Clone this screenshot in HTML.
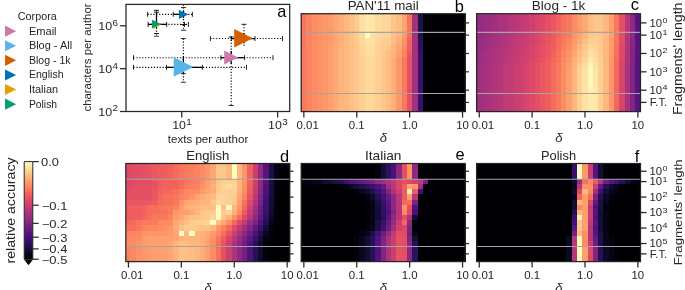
<!DOCTYPE html>
<html><head><meta charset="utf-8"><title>figure</title>
<style>html,body{margin:0;padding:0;background:#fff}svg{display:block;will-change:transform}text{font-family:"Liberation Sans",sans-serif}</style></head>
<body>
<svg width="685" height="290" viewBox="0 0 685 290" font-family="'Liberation Sans', sans-serif" fill="#262626">
<rect width="685" height="290" fill="#fff"/>
<text x="17.8" y="20.4" font-size="10.2" textLength="39" lengthAdjust="spacingAndGlyphs">Corpora</text>
<path d="M5.05 25.60L16.15 31.15L5.05 36.70Z" fill="#CC79A7"/>
<text x="28.9" y="34.55" font-size="10.0" textLength="27.7" lengthAdjust="spacingAndGlyphs">Email</text>
<path d="M5.05 40.20L16.15 45.75L5.05 51.30Z" fill="#56B4E9"/>
<text x="28.9" y="49.15" font-size="10.0" textLength="43.2" lengthAdjust="spacingAndGlyphs">Blog - All</text>
<path d="M5.05 54.80L16.15 60.35L5.05 65.90Z" fill="#D55E00"/>
<text x="28.9" y="63.75" font-size="10.0" textLength="41.7" lengthAdjust="spacingAndGlyphs">Blog - 1k</text>
<path d="M5.05 69.40L16.15 74.95L5.05 80.50Z" fill="#0072B2"/>
<text x="28.9" y="78.35" font-size="10.0" textLength="34.7" lengthAdjust="spacingAndGlyphs">English</text>
<path d="M5.05 84.00L16.15 89.55L5.05 95.10Z" fill="#E69F00"/>
<text x="28.9" y="92.95" font-size="10.0" textLength="29.2" lengthAdjust="spacingAndGlyphs">Italian</text>
<path d="M5.05 98.60L16.15 104.15L5.05 109.70Z" fill="#009E73"/>
<text x="28.9" y="107.55" font-size="10.0" textLength="28.2" lengthAdjust="spacingAndGlyphs">Polish</text>
<clipPath id="ca"><rect x="126.0" y="4.4" width="163.7" height="107.1"/></clipPath>
<g clip-path="url(#ca)">
<line x1="133.5" y1="57.7" x2="273" y2="57.7" stroke="#000" stroke-width="1.15" stroke-dasharray="1.15 1.75"/>
<line x1="220.9" y1="57.7" x2="244.6" y2="57.7" stroke="#000" stroke-width="1.25"/>
<line x1="133.5" y1="55.2" x2="133.5" y2="60.2" stroke="#000" stroke-width="0.85"/>
<line x1="273" y1="55.2" x2="273" y2="60.2" stroke="#000" stroke-width="0.85"/>
<line x1="220.9" y1="55.2" x2="220.9" y2="60.2" stroke="#000" stroke-width="0.85"/>
<line x1="244.6" y1="55.2" x2="244.6" y2="60.2" stroke="#000" stroke-width="0.85"/>
<line x1="231.2" y1="37" x2="231.2" y2="105.5" stroke="#000" stroke-width="1.15" stroke-dasharray="1.15 1.75"/>
<line x1="231.2" y1="51" x2="231.2" y2="64" stroke="#000" stroke-width="1.25"/>
<line x1="228.7" y1="37" x2="233.7" y2="37" stroke="#000" stroke-width="0.85"/>
<line x1="228.7" y1="105.5" x2="233.7" y2="105.5" stroke="#000" stroke-width="0.85"/>
<line x1="133.5" y1="67.3" x2="246.5" y2="67.3" stroke="#000" stroke-width="1.15" stroke-dasharray="1.15 1.75"/>
<line x1="166.5" y1="67.3" x2="202.4" y2="67.3" stroke="#000" stroke-width="1.25"/>
<line x1="133.5" y1="64.8" x2="133.5" y2="69.8" stroke="#000" stroke-width="0.85"/>
<line x1="246.5" y1="64.8" x2="246.5" y2="69.8" stroke="#000" stroke-width="0.85"/>
<line x1="166.5" y1="64.8" x2="166.5" y2="69.8" stroke="#000" stroke-width="0.85"/>
<line x1="202.4" y1="64.8" x2="202.4" y2="69.8" stroke="#000" stroke-width="0.85"/>
<line x1="183.4" y1="38.6" x2="183.4" y2="82.2" stroke="#000" stroke-width="1.15" stroke-dasharray="1.15 1.75"/>
<line x1="183.4" y1="56.4" x2="183.4" y2="73.6" stroke="#000" stroke-width="1.25"/>
<line x1="180.9" y1="38.6" x2="185.9" y2="38.6" stroke="#000" stroke-width="0.85"/>
<line x1="180.9" y1="82.2" x2="185.9" y2="82.2" stroke="#000" stroke-width="0.85"/>
<line x1="180.9" y1="73.6" x2="185.9" y2="73.6" stroke="#000" stroke-width="0.85"/>
<line x1="210.4" y1="38.5" x2="282.5" y2="38.5" stroke="#000" stroke-width="1.15" stroke-dasharray="1.15 1.75"/>
<line x1="231.3" y1="38.5" x2="255" y2="38.5" stroke="#000" stroke-width="1.25"/>
<line x1="210.4" y1="36.0" x2="210.4" y2="41.0" stroke="#000" stroke-width="0.85"/>
<line x1="282.5" y1="36.0" x2="282.5" y2="41.0" stroke="#000" stroke-width="0.85"/>
<line x1="231.3" y1="36.0" x2="231.3" y2="41.0" stroke="#000" stroke-width="0.85"/>
<line x1="255" y1="36.0" x2="255" y2="41.0" stroke="#000" stroke-width="0.85"/>
<line x1="244" y1="24.3" x2="244" y2="47" stroke="#000" stroke-width="1.15" stroke-dasharray="1.15 1.75"/>
<line x1="244" y1="33" x2="244" y2="43.3" stroke="#000" stroke-width="1.25"/>
<line x1="241.5" y1="24.3" x2="246.5" y2="24.3" stroke="#000" stroke-width="0.85"/>
<line x1="147.6" y1="14.3" x2="192.4" y2="14.3" stroke="#000" stroke-width="1.15" stroke-dasharray="1.15 1.75"/>
<line x1="173.2" y1="14.3" x2="187" y2="14.3" stroke="#000" stroke-width="1.25"/>
<line x1="147.6" y1="11.8" x2="147.6" y2="16.8" stroke="#000" stroke-width="0.85"/>
<line x1="192.4" y1="11.8" x2="192.4" y2="16.8" stroke="#000" stroke-width="0.85"/>
<line x1="173.2" y1="11.8" x2="173.2" y2="16.8" stroke="#000" stroke-width="0.85"/>
<line x1="183.5" y1="4.5" x2="183.5" y2="30.2" stroke="#000" stroke-width="1.15" stroke-dasharray="1.15 1.75"/>
<line x1="183.5" y1="11" x2="183.5" y2="18" stroke="#000" stroke-width="1.25"/>
<line x1="181.0" y1="7.6" x2="186.0" y2="7.6" stroke="#000" stroke-width="0.85"/>
<line x1="181.0" y1="24.6" x2="186.0" y2="24.6" stroke="#000" stroke-width="0.85"/>
<line x1="181.0" y1="30.2" x2="186.0" y2="30.2" stroke="#000" stroke-width="0.85"/>
<line x1="148.1" y1="24.4" x2="188.4" y2="24.4" stroke="#000" stroke-width="1.15" stroke-dasharray="1.15 1.75"/>
<line x1="148.1" y1="24.4" x2="166.7" y2="24.4" stroke="#000" stroke-width="1.25"/>
<line x1="148.1" y1="21.9" x2="148.1" y2="26.9" stroke="#000" stroke-width="0.85"/>
<line x1="166.7" y1="21.9" x2="166.7" y2="26.9" stroke="#000" stroke-width="0.85"/>
<line x1="184.5" y1="21.9" x2="184.5" y2="26.9" stroke="#000" stroke-width="0.85"/>
<line x1="188.4" y1="21.9" x2="188.4" y2="26.9" stroke="#000" stroke-width="0.85"/>
<line x1="156.5" y1="10.3" x2="156.5" y2="36.2" stroke="#000" stroke-width="1.15" stroke-dasharray="1.15 1.75"/>
<line x1="156.5" y1="12.2" x2="156.5" y2="28.4" stroke="#000" stroke-width="1.25"/>
<line x1="154.0" y1="10.3" x2="159.0" y2="10.3" stroke="#000" stroke-width="0.85"/>
<line x1="154.0" y1="12.2" x2="159.0" y2="12.2" stroke="#000" stroke-width="0.85"/>
<line x1="154.0" y1="33.5" x2="159.0" y2="33.5" stroke="#000" stroke-width="0.85"/>
<line x1="154.0" y1="36.2" x2="159.0" y2="36.2" stroke="#000" stroke-width="0.85"/>
<path d="M224.20 50.60L238.20 57.60L224.20 64.60Z" fill="#CC79A7"/>
<path d="M173.70 57.20L193.30 67.00L173.70 76.80Z" fill="#56B4E9"/>
<path d="M234.20 29.00L252.80 38.30L234.20 47.60Z" fill="#D55E00"/>
<path d="M178.85 9.75L188.15 14.40L178.85 19.05Z" fill="#0072B2"/>
<path d="M152.65 20.45L161.15 24.70L152.65 28.95Z" fill="#E69F00"/>
<path d="M152.05 19.75L160.55 24.00L152.05 28.25Z" fill="#009E73"/>
</g>
<rect x="126.0" y="4.4" width="163.70" height="107.10" fill="none" stroke="#262626" stroke-width="1.25"/>
<line x1="120.0" y1="111.50" x2="126.0" y2="111.50" stroke="#262626" stroke-width="1.25"/>
<text x="98.31" y="115.6" font-size="11.77" textLength="13.86" lengthAdjust="spacingAndGlyphs">10</text>
<text x="112.5" y="111.36" font-size="8.58" textLength="5.5" lengthAdjust="spacingAndGlyphs">2</text>
<line x1="120.0" y1="68.66" x2="126.0" y2="68.66" stroke="#262626" stroke-width="1.25"/>
<text x="98.31" y="72.76" font-size="11.77" textLength="13.86" lengthAdjust="spacingAndGlyphs">10</text>
<text x="112.5" y="68.53" font-size="8.58" textLength="5.5" lengthAdjust="spacingAndGlyphs">4</text>
<line x1="120.0" y1="25.82" x2="126.0" y2="25.82" stroke="#262626" stroke-width="1.25"/>
<text x="98.31" y="29.92" font-size="11.77" textLength="13.86" lengthAdjust="spacingAndGlyphs">10</text>
<text x="112.5" y="25.69" font-size="8.58" textLength="5.5" lengthAdjust="spacingAndGlyphs">6</text>
<line x1="181.75" y1="111.5" x2="181.75" y2="117.5" stroke="#262626" stroke-width="1.25"/>
<text x="172.15" y="128.8" font-size="11.77" textLength="13.86" lengthAdjust="spacingAndGlyphs">10</text>
<text x="186.34" y="124.57" font-size="8.58" textLength="5.5" lengthAdjust="spacingAndGlyphs">1</text>
<line x1="277.65" y1="111.5" x2="277.65" y2="117.5" stroke="#262626" stroke-width="1.25"/>
<text x="268.05" y="128.8" font-size="11.77" textLength="13.86" lengthAdjust="spacingAndGlyphs">10</text>
<text x="282.24" y="124.57" font-size="8.58" textLength="5.5" lengthAdjust="spacingAndGlyphs">3</text>
<text x="208" y="142.6" font-size="10.2" text-anchor="middle" textLength="80.5" lengthAdjust="spacingAndGlyphs">texts per author</text>
<text x="91.3" y="57.5" font-size="10.2" text-anchor="middle" textLength="108" lengthAdjust="spacingAndGlyphs" transform="rotate(-90 91.3 57.5)">characters per author</text>
<text x="286.3" y="16.6" font-size="16.4" text-anchor="end" fill="#000">a</text>
<g shape-rendering="crispEdges">
<rect x="301.20" y="13.70" width="5.79" height="18.86" fill="#f8745c"/>
<rect x="306.49" y="13.70" width="5.79" height="18.86" fill="#fb835f"/>
<rect x="311.78" y="13.70" width="5.79" height="18.86" fill="#fc8c63"/>
<rect x="317.07" y="13.70" width="5.79" height="18.86" fill="#fd9266"/>
<rect x="322.36" y="13.70" width="5.79" height="18.86" fill="#fd9668"/>
<rect x="327.65" y="13.70" width="5.79" height="18.86" fill="#fd9b6b"/>
<rect x="332.94" y="13.70" width="5.79" height="18.86" fill="#fea571"/>
<rect x="338.23" y="13.70" width="5.79" height="18.86" fill="#feae77"/>
<rect x="343.52" y="13.70" width="5.79" height="18.86" fill="#feb77e"/>
<rect x="348.81" y="13.70" width="5.79" height="18.86" fill="#fec185"/>
<rect x="354.10" y="13.70" width="5.79" height="18.86" fill="#feca8d"/>
<rect x="359.39" y="13.70" width="5.79" height="18.86" fill="#fddea0"/>
<rect x="364.68" y="13.70" width="11.08" height="18.86" fill="#fde7a9"/>
<rect x="375.26" y="13.70" width="5.79" height="18.86" fill="#fddea0"/>
<rect x="380.55" y="13.70" width="11.08" height="18.86" fill="#fed89a"/>
<rect x="391.14" y="13.70" width="5.79" height="18.86" fill="#fec68a"/>
<rect x="396.43" y="13.70" width="5.79" height="18.86" fill="#febd82"/>
<rect x="401.72" y="13.70" width="5.79" height="18.86" fill="#fea571"/>
<rect x="407.01" y="13.70" width="5.79" height="18.86" fill="#f8745c"/>
<rect x="412.30" y="13.70" width="5.79" height="18.86" fill="#a1307e"/>
<rect x="417.59" y="13.70" width="5.79" height="18.86" fill="#1e1149"/>
<rect x="422.88" y="13.70" width="42.82" height="18.86" fill="#000004"/>
<rect x="301.20" y="32.06" width="5.79" height="6.62" fill="#f8745c"/>
<rect x="306.49" y="32.06" width="5.79" height="6.62" fill="#fb835f"/>
<rect x="311.78" y="32.06" width="5.79" height="6.62" fill="#fc8c63"/>
<rect x="317.07" y="32.06" width="5.79" height="6.62" fill="#fd9266"/>
<rect x="322.36" y="32.06" width="5.79" height="6.62" fill="#fd9668"/>
<rect x="327.65" y="32.06" width="5.79" height="6.62" fill="#fd9b6b"/>
<rect x="332.94" y="32.06" width="5.79" height="6.62" fill="#fea571"/>
<rect x="338.23" y="32.06" width="5.79" height="6.62" fill="#feae77"/>
<rect x="343.52" y="32.06" width="5.79" height="6.62" fill="#feb77e"/>
<rect x="348.81" y="32.06" width="5.79" height="6.62" fill="#fec185"/>
<rect x="354.10" y="32.06" width="5.79" height="6.62" fill="#feca8d"/>
<rect x="359.39" y="32.06" width="5.79" height="6.62" fill="#fed89a"/>
<rect x="364.68" y="32.06" width="5.79" height="6.62" fill="#fcfdbf"/>
<rect x="369.97" y="32.06" width="5.79" height="6.62" fill="#fde2a3"/>
<rect x="375.26" y="32.06" width="5.79" height="6.62" fill="#fed89a"/>
<rect x="380.55" y="32.06" width="11.08" height="6.62" fill="#fed395"/>
<rect x="391.14" y="32.06" width="5.79" height="6.62" fill="#fec185"/>
<rect x="396.43" y="32.06" width="5.79" height="6.62" fill="#feb47b"/>
<rect x="401.72" y="32.06" width="5.79" height="6.62" fill="#fd9b6b"/>
<rect x="407.01" y="32.06" width="5.79" height="6.62" fill="#f56b5c"/>
<rect x="412.30" y="32.06" width="5.79" height="6.62" fill="#a1307e"/>
<rect x="417.59" y="32.06" width="5.79" height="6.62" fill="#21114e"/>
<rect x="422.88" y="32.06" width="42.82" height="6.62" fill="#000004"/>
<rect x="301.20" y="38.17" width="5.79" height="6.62" fill="#f8745c"/>
<rect x="306.49" y="38.17" width="5.79" height="6.62" fill="#fb835f"/>
<rect x="311.78" y="38.17" width="5.79" height="6.62" fill="#fc8c63"/>
<rect x="317.07" y="38.17" width="5.79" height="6.62" fill="#fd9266"/>
<rect x="322.36" y="38.17" width="5.79" height="6.62" fill="#fd9668"/>
<rect x="327.65" y="38.17" width="5.79" height="6.62" fill="#fd9b6b"/>
<rect x="332.94" y="38.17" width="5.79" height="6.62" fill="#fea571"/>
<rect x="338.23" y="38.17" width="5.79" height="6.62" fill="#feae77"/>
<rect x="343.52" y="38.17" width="5.79" height="6.62" fill="#feb77e"/>
<rect x="348.81" y="38.17" width="5.79" height="6.62" fill="#fec185"/>
<rect x="354.10" y="38.17" width="5.79" height="6.62" fill="#feca8d"/>
<rect x="359.39" y="38.17" width="5.79" height="6.62" fill="#fed89a"/>
<rect x="364.68" y="38.17" width="11.08" height="6.62" fill="#fde2a3"/>
<rect x="375.26" y="38.17" width="5.79" height="6.62" fill="#fed89a"/>
<rect x="380.55" y="38.17" width="11.08" height="6.62" fill="#fecf92"/>
<rect x="391.14" y="38.17" width="5.79" height="6.62" fill="#febd82"/>
<rect x="396.43" y="38.17" width="5.79" height="6.62" fill="#feae77"/>
<rect x="401.72" y="38.17" width="5.79" height="6.62" fill="#fd9266"/>
<rect x="407.01" y="38.17" width="5.79" height="6.62" fill="#f2625d"/>
<rect x="412.30" y="38.17" width="5.79" height="6.62" fill="#a1307e"/>
<rect x="417.59" y="38.17" width="5.79" height="6.62" fill="#29115a"/>
<rect x="422.88" y="38.17" width="42.82" height="6.62" fill="#000004"/>
<rect x="301.20" y="44.29" width="5.79" height="6.62" fill="#f9795d"/>
<rect x="306.49" y="44.29" width="5.79" height="6.62" fill="#fb835f"/>
<rect x="311.78" y="44.29" width="5.79" height="6.62" fill="#fc8c63"/>
<rect x="317.07" y="44.29" width="5.79" height="6.62" fill="#fd9266"/>
<rect x="322.36" y="44.29" width="5.79" height="6.62" fill="#fd9668"/>
<rect x="327.65" y="44.29" width="5.79" height="6.62" fill="#fe9f6d"/>
<rect x="332.94" y="44.29" width="5.79" height="6.62" fill="#fea973"/>
<rect x="338.23" y="44.29" width="5.79" height="6.62" fill="#feb47b"/>
<rect x="343.52" y="44.29" width="5.79" height="6.62" fill="#feb77e"/>
<rect x="348.81" y="44.29" width="5.79" height="6.62" fill="#fec185"/>
<rect x="354.10" y="44.29" width="5.79" height="6.62" fill="#fec68a"/>
<rect x="359.39" y="44.29" width="5.79" height="6.62" fill="#fed395"/>
<rect x="364.68" y="44.29" width="11.08" height="6.62" fill="#fddea0"/>
<rect x="375.26" y="44.29" width="5.79" height="6.62" fill="#fed395"/>
<rect x="380.55" y="44.29" width="5.79" height="6.62" fill="#fecf92"/>
<rect x="385.85" y="44.29" width="5.79" height="6.62" fill="#fec68a"/>
<rect x="391.14" y="44.29" width="5.79" height="6.62" fill="#feb77e"/>
<rect x="396.43" y="44.29" width="5.79" height="6.62" fill="#fea571"/>
<rect x="401.72" y="44.29" width="5.79" height="6.62" fill="#fc8c63"/>
<rect x="407.01" y="44.29" width="5.79" height="6.62" fill="#ef5d5e"/>
<rect x="412.30" y="44.29" width="5.79" height="6.62" fill="#a1307e"/>
<rect x="417.59" y="44.29" width="5.79" height="6.62" fill="#2d1161"/>
<rect x="422.88" y="44.29" width="42.82" height="6.62" fill="#000004"/>
<rect x="301.20" y="50.41" width="5.79" height="6.62" fill="#f9795d"/>
<rect x="306.49" y="50.41" width="5.79" height="6.62" fill="#fb835f"/>
<rect x="311.78" y="50.41" width="5.79" height="6.62" fill="#fc8c63"/>
<rect x="317.07" y="50.41" width="5.79" height="6.62" fill="#fd9266"/>
<rect x="322.36" y="50.41" width="5.79" height="6.62" fill="#fd9668"/>
<rect x="327.65" y="50.41" width="5.79" height="6.62" fill="#fe9f6d"/>
<rect x="332.94" y="50.41" width="5.79" height="6.62" fill="#fea973"/>
<rect x="338.23" y="50.41" width="5.79" height="6.62" fill="#feb47b"/>
<rect x="343.52" y="50.41" width="5.79" height="6.62" fill="#feb77e"/>
<rect x="348.81" y="50.41" width="5.79" height="6.62" fill="#fec185"/>
<rect x="354.10" y="50.41" width="5.79" height="6.62" fill="#fec68a"/>
<rect x="359.39" y="50.41" width="5.79" height="6.62" fill="#fed395"/>
<rect x="364.68" y="50.41" width="11.08" height="6.62" fill="#fddea0"/>
<rect x="375.26" y="50.41" width="5.79" height="6.62" fill="#fed395"/>
<rect x="380.55" y="50.41" width="5.79" height="6.62" fill="#feca8d"/>
<rect x="385.85" y="50.41" width="5.79" height="6.62" fill="#fec185"/>
<rect x="391.14" y="50.41" width="5.79" height="6.62" fill="#feb47b"/>
<rect x="396.43" y="50.41" width="5.79" height="6.62" fill="#fe9f6d"/>
<rect x="401.72" y="50.41" width="5.79" height="6.62" fill="#fb835f"/>
<rect x="407.01" y="50.41" width="5.79" height="6.62" fill="#ea5661"/>
<rect x="412.30" y="50.41" width="5.79" height="6.62" fill="#a1307e"/>
<rect x="417.59" y="50.41" width="5.79" height="6.62" fill="#36106b"/>
<rect x="422.88" y="50.41" width="42.82" height="6.62" fill="#000004"/>
<rect x="301.20" y="56.53" width="5.79" height="6.62" fill="#f9795d"/>
<rect x="306.49" y="56.53" width="5.79" height="6.62" fill="#fb835f"/>
<rect x="311.78" y="56.53" width="5.79" height="6.62" fill="#fc8c63"/>
<rect x="317.07" y="56.53" width="5.79" height="6.62" fill="#fd9266"/>
<rect x="322.36" y="56.53" width="5.79" height="6.62" fill="#fd9668"/>
<rect x="327.65" y="56.53" width="5.79" height="6.62" fill="#fe9f6d"/>
<rect x="332.94" y="56.53" width="5.79" height="6.62" fill="#fea973"/>
<rect x="338.23" y="56.53" width="5.79" height="6.62" fill="#feb47b"/>
<rect x="343.52" y="56.53" width="5.79" height="6.62" fill="#feb77e"/>
<rect x="348.81" y="56.53" width="5.79" height="6.62" fill="#fec185"/>
<rect x="354.10" y="56.53" width="5.79" height="6.62" fill="#fec68a"/>
<rect x="359.39" y="56.53" width="5.79" height="6.62" fill="#fecf92"/>
<rect x="364.68" y="56.53" width="11.08" height="6.62" fill="#fed89a"/>
<rect x="375.26" y="56.53" width="5.79" height="6.62" fill="#fecf92"/>
<rect x="380.55" y="56.53" width="5.79" height="6.62" fill="#fec68a"/>
<rect x="385.85" y="56.53" width="5.79" height="6.62" fill="#febd82"/>
<rect x="391.14" y="56.53" width="5.79" height="6.62" fill="#feae77"/>
<rect x="396.43" y="56.53" width="5.79" height="6.62" fill="#fd9668"/>
<rect x="401.72" y="56.53" width="5.79" height="6.62" fill="#f9795d"/>
<rect x="407.01" y="56.53" width="5.79" height="6.62" fill="#e44f64"/>
<rect x="412.30" y="56.53" width="5.79" height="6.62" fill="#a1307e"/>
<rect x="417.59" y="56.53" width="5.79" height="6.62" fill="#3b0f70"/>
<rect x="422.88" y="56.53" width="42.82" height="6.62" fill="#000004"/>
<rect x="301.20" y="62.65" width="5.79" height="6.62" fill="#f9795d"/>
<rect x="306.49" y="62.65" width="5.79" height="6.62" fill="#fb835f"/>
<rect x="311.78" y="62.65" width="5.79" height="6.62" fill="#fc8c63"/>
<rect x="317.07" y="62.65" width="5.79" height="6.62" fill="#fd9266"/>
<rect x="322.36" y="62.65" width="5.79" height="6.62" fill="#fd9668"/>
<rect x="327.65" y="62.65" width="5.79" height="6.62" fill="#fe9f6d"/>
<rect x="332.94" y="62.65" width="5.79" height="6.62" fill="#fea973"/>
<rect x="338.23" y="62.65" width="5.79" height="6.62" fill="#feb47b"/>
<rect x="343.52" y="62.65" width="5.79" height="6.62" fill="#feb77e"/>
<rect x="348.81" y="62.65" width="5.79" height="6.62" fill="#fec185"/>
<rect x="354.10" y="62.65" width="5.79" height="6.62" fill="#fec68a"/>
<rect x="359.39" y="62.65" width="5.79" height="6.62" fill="#fecf92"/>
<rect x="364.68" y="62.65" width="11.08" height="6.62" fill="#fed89a"/>
<rect x="375.26" y="62.65" width="5.79" height="6.62" fill="#fecf92"/>
<rect x="380.55" y="62.65" width="5.79" height="6.62" fill="#fec68a"/>
<rect x="385.85" y="62.65" width="5.79" height="6.62" fill="#febd82"/>
<rect x="391.14" y="62.65" width="5.79" height="6.62" fill="#feae77"/>
<rect x="396.43" y="62.65" width="5.79" height="6.62" fill="#fd9668"/>
<rect x="401.72" y="62.65" width="5.79" height="6.62" fill="#f9795d"/>
<rect x="407.01" y="62.65" width="5.79" height="6.62" fill="#e44f64"/>
<rect x="412.30" y="62.65" width="5.79" height="6.62" fill="#a1307e"/>
<rect x="417.59" y="62.65" width="5.79" height="6.62" fill="#3b0f70"/>
<rect x="422.88" y="62.65" width="42.82" height="6.62" fill="#000004"/>
<rect x="301.20" y="68.77" width="5.79" height="6.62" fill="#f9795d"/>
<rect x="306.49" y="68.77" width="5.79" height="6.62" fill="#fb835f"/>
<rect x="311.78" y="68.77" width="5.79" height="6.62" fill="#fc8c63"/>
<rect x="317.07" y="68.77" width="5.79" height="6.62" fill="#fd9266"/>
<rect x="322.36" y="68.77" width="5.79" height="6.62" fill="#fd9668"/>
<rect x="327.65" y="68.77" width="5.79" height="6.62" fill="#fe9f6d"/>
<rect x="332.94" y="68.77" width="5.79" height="6.62" fill="#fea973"/>
<rect x="338.23" y="68.77" width="5.79" height="6.62" fill="#feb47b"/>
<rect x="343.52" y="68.77" width="5.79" height="6.62" fill="#feb77e"/>
<rect x="348.81" y="68.77" width="5.79" height="6.62" fill="#fec185"/>
<rect x="354.10" y="68.77" width="5.79" height="6.62" fill="#fec68a"/>
<rect x="359.39" y="68.77" width="5.79" height="6.62" fill="#fecf92"/>
<rect x="364.68" y="68.77" width="11.08" height="6.62" fill="#fed89a"/>
<rect x="375.26" y="68.77" width="5.79" height="6.62" fill="#fecf92"/>
<rect x="380.55" y="68.77" width="5.79" height="6.62" fill="#fec68a"/>
<rect x="385.85" y="68.77" width="5.79" height="6.62" fill="#febd82"/>
<rect x="391.14" y="68.77" width="5.79" height="6.62" fill="#feae77"/>
<rect x="396.43" y="68.77" width="5.79" height="6.62" fill="#fd9668"/>
<rect x="401.72" y="68.77" width="5.79" height="6.62" fill="#f9795d"/>
<rect x="407.01" y="68.77" width="5.79" height="6.62" fill="#e44f64"/>
<rect x="412.30" y="68.77" width="5.79" height="6.62" fill="#a1307e"/>
<rect x="417.59" y="68.77" width="5.79" height="6.62" fill="#3b0f70"/>
<rect x="422.88" y="68.77" width="42.82" height="6.62" fill="#000004"/>
<rect x="301.20" y="74.89" width="5.79" height="6.62" fill="#f9795d"/>
<rect x="306.49" y="74.89" width="5.79" height="6.62" fill="#fb835f"/>
<rect x="311.78" y="74.89" width="5.79" height="6.62" fill="#fc8c63"/>
<rect x="317.07" y="74.89" width="5.79" height="6.62" fill="#fd9266"/>
<rect x="322.36" y="74.89" width="5.79" height="6.62" fill="#fd9668"/>
<rect x="327.65" y="74.89" width="5.79" height="6.62" fill="#fe9f6d"/>
<rect x="332.94" y="74.89" width="5.79" height="6.62" fill="#fea973"/>
<rect x="338.23" y="74.89" width="5.79" height="6.62" fill="#feb47b"/>
<rect x="343.52" y="74.89" width="5.79" height="6.62" fill="#feb77e"/>
<rect x="348.81" y="74.89" width="5.79" height="6.62" fill="#fec185"/>
<rect x="354.10" y="74.89" width="5.79" height="6.62" fill="#fec68a"/>
<rect x="359.39" y="74.89" width="5.79" height="6.62" fill="#fecf92"/>
<rect x="364.68" y="74.89" width="11.08" height="6.62" fill="#fed89a"/>
<rect x="375.26" y="74.89" width="5.79" height="6.62" fill="#fecf92"/>
<rect x="380.55" y="74.89" width="5.79" height="6.62" fill="#fec68a"/>
<rect x="385.85" y="74.89" width="5.79" height="6.62" fill="#febd82"/>
<rect x="391.14" y="74.89" width="5.79" height="6.62" fill="#feae77"/>
<rect x="396.43" y="74.89" width="5.79" height="6.62" fill="#fd9668"/>
<rect x="401.72" y="74.89" width="5.79" height="6.62" fill="#f9795d"/>
<rect x="407.01" y="74.89" width="5.79" height="6.62" fill="#e44f64"/>
<rect x="412.30" y="74.89" width="5.79" height="6.62" fill="#a1307e"/>
<rect x="417.59" y="74.89" width="5.79" height="6.62" fill="#3b0f70"/>
<rect x="422.88" y="74.89" width="42.82" height="6.62" fill="#000004"/>
<rect x="301.20" y="81.01" width="5.79" height="6.62" fill="#f9795d"/>
<rect x="306.49" y="81.01" width="5.79" height="6.62" fill="#fb835f"/>
<rect x="311.78" y="81.01" width="5.79" height="6.62" fill="#fc8c63"/>
<rect x="317.07" y="81.01" width="5.79" height="6.62" fill="#fd9266"/>
<rect x="322.36" y="81.01" width="5.79" height="6.62" fill="#fd9668"/>
<rect x="327.65" y="81.01" width="5.79" height="6.62" fill="#fe9f6d"/>
<rect x="332.94" y="81.01" width="5.79" height="6.62" fill="#fea973"/>
<rect x="338.23" y="81.01" width="5.79" height="6.62" fill="#feb47b"/>
<rect x="343.52" y="81.01" width="5.79" height="6.62" fill="#feb77e"/>
<rect x="348.81" y="81.01" width="5.79" height="6.62" fill="#fec185"/>
<rect x="354.10" y="81.01" width="5.79" height="6.62" fill="#fec68a"/>
<rect x="359.39" y="81.01" width="5.79" height="6.62" fill="#fecf92"/>
<rect x="364.68" y="81.01" width="11.08" height="6.62" fill="#fed89a"/>
<rect x="375.26" y="81.01" width="5.79" height="6.62" fill="#fecf92"/>
<rect x="380.55" y="81.01" width="5.79" height="6.62" fill="#fec68a"/>
<rect x="385.85" y="81.01" width="5.79" height="6.62" fill="#febd82"/>
<rect x="391.14" y="81.01" width="5.79" height="6.62" fill="#feae77"/>
<rect x="396.43" y="81.01" width="5.79" height="6.62" fill="#fd9668"/>
<rect x="401.72" y="81.01" width="5.79" height="6.62" fill="#f9795d"/>
<rect x="407.01" y="81.01" width="5.79" height="6.62" fill="#e44f64"/>
<rect x="412.30" y="81.01" width="5.79" height="6.62" fill="#a1307e"/>
<rect x="417.59" y="81.01" width="5.79" height="6.62" fill="#3b0f70"/>
<rect x="422.88" y="81.01" width="42.82" height="6.62" fill="#000004"/>
<rect x="301.20" y="87.12" width="5.79" height="6.62" fill="#f9795d"/>
<rect x="306.49" y="87.12" width="5.79" height="6.62" fill="#fb835f"/>
<rect x="311.78" y="87.12" width="5.79" height="6.62" fill="#fc8c63"/>
<rect x="317.07" y="87.12" width="5.79" height="6.62" fill="#fd9266"/>
<rect x="322.36" y="87.12" width="5.79" height="6.62" fill="#fd9668"/>
<rect x="327.65" y="87.12" width="5.79" height="6.62" fill="#fe9f6d"/>
<rect x="332.94" y="87.12" width="5.79" height="6.62" fill="#fea973"/>
<rect x="338.23" y="87.12" width="5.79" height="6.62" fill="#feb47b"/>
<rect x="343.52" y="87.12" width="5.79" height="6.62" fill="#feb77e"/>
<rect x="348.81" y="87.12" width="5.79" height="6.62" fill="#fec185"/>
<rect x="354.10" y="87.12" width="5.79" height="6.62" fill="#fec68a"/>
<rect x="359.39" y="87.12" width="5.79" height="6.62" fill="#fecf92"/>
<rect x="364.68" y="87.12" width="11.08" height="6.62" fill="#fed89a"/>
<rect x="375.26" y="87.12" width="5.79" height="6.62" fill="#fecf92"/>
<rect x="380.55" y="87.12" width="5.79" height="6.62" fill="#fec68a"/>
<rect x="385.85" y="87.12" width="5.79" height="6.62" fill="#febd82"/>
<rect x="391.14" y="87.12" width="5.79" height="6.62" fill="#feae77"/>
<rect x="396.43" y="87.12" width="5.79" height="6.62" fill="#fd9668"/>
<rect x="401.72" y="87.12" width="5.79" height="6.62" fill="#f9795d"/>
<rect x="407.01" y="87.12" width="5.79" height="6.62" fill="#e44f64"/>
<rect x="412.30" y="87.12" width="5.79" height="6.62" fill="#a1307e"/>
<rect x="417.59" y="87.12" width="5.79" height="6.62" fill="#3b0f70"/>
<rect x="422.88" y="87.12" width="42.82" height="6.62" fill="#000004"/>
<rect x="301.20" y="93.24" width="5.79" height="18.86" fill="#f9795d"/>
<rect x="306.49" y="93.24" width="5.79" height="18.86" fill="#fb835f"/>
<rect x="311.78" y="93.24" width="5.79" height="18.86" fill="#fc8c63"/>
<rect x="317.07" y="93.24" width="5.79" height="18.86" fill="#fd9266"/>
<rect x="322.36" y="93.24" width="5.79" height="18.86" fill="#fd9668"/>
<rect x="327.65" y="93.24" width="5.79" height="18.86" fill="#fe9f6d"/>
<rect x="332.94" y="93.24" width="5.79" height="18.86" fill="#fea973"/>
<rect x="338.23" y="93.24" width="5.79" height="18.86" fill="#feb47b"/>
<rect x="343.52" y="93.24" width="5.79" height="18.86" fill="#feb77e"/>
<rect x="348.81" y="93.24" width="5.79" height="18.86" fill="#fec185"/>
<rect x="354.10" y="93.24" width="5.79" height="18.86" fill="#fec68a"/>
<rect x="359.39" y="93.24" width="5.79" height="18.86" fill="#fecf92"/>
<rect x="364.68" y="93.24" width="11.08" height="18.86" fill="#fed89a"/>
<rect x="375.26" y="93.24" width="5.79" height="18.86" fill="#fecf92"/>
<rect x="380.55" y="93.24" width="5.79" height="18.86" fill="#fec68a"/>
<rect x="385.85" y="93.24" width="5.79" height="18.86" fill="#febd82"/>
<rect x="391.14" y="93.24" width="5.79" height="18.86" fill="#feae77"/>
<rect x="396.43" y="93.24" width="5.79" height="18.86" fill="#fd9668"/>
<rect x="401.72" y="93.24" width="5.79" height="18.86" fill="#f9795d"/>
<rect x="407.01" y="93.24" width="5.79" height="18.86" fill="#e44f64"/>
<rect x="412.30" y="93.24" width="5.79" height="18.86" fill="#a1307e"/>
<rect x="417.59" y="93.24" width="5.79" height="18.86" fill="#3b0f70"/>
<rect x="422.88" y="93.24" width="42.82" height="18.86" fill="#000004"/>
</g>
<line x1="301.2" y1="32.36" x2="465.2" y2="32.36" stroke="#a4a4a4" stroke-width="1.05"/>
<line x1="301.2" y1="93.54" x2="465.2" y2="93.54" stroke="#a4a4a4" stroke-width="1.05"/>
<rect x="301.2" y="13.7" width="164.00" height="97.90" fill="none" stroke="#262626" stroke-width="1.25"/>
<line x1="303.85" y1="111.6" x2="303.85" y2="117.6" stroke="#262626" stroke-width="1.25"/>
<text x="307.65" y="128.9" font-size="10.2" text-anchor="middle" textLength="22.3" lengthAdjust="spacingAndGlyphs">0.01</text>
<line x1="356.75" y1="111.6" x2="356.75" y2="117.6" stroke="#262626" stroke-width="1.25"/>
<text x="356.75" y="128.9" font-size="10.2" text-anchor="middle" textLength="15.9" lengthAdjust="spacingAndGlyphs">0.1</text>
<line x1="409.65" y1="111.6" x2="409.65" y2="117.6" stroke="#262626" stroke-width="1.25"/>
<text x="409.65" y="128.9" font-size="10.2" text-anchor="middle" textLength="15.9" lengthAdjust="spacingAndGlyphs">1.0</text>
<line x1="462.55" y1="111.6" x2="462.55" y2="117.6" stroke="#262626" stroke-width="1.25"/>
<text x="462.55" y="128.9" font-size="10.2" text-anchor="middle" textLength="12.7" lengthAdjust="spacingAndGlyphs">10</text>
<text x="383.4" y="142.4" font-size="13" text-anchor="middle" font-style="italic">δ</text>
<line x1="465.2" y1="22.88" x2="468.9" y2="22.88" stroke="#262626" stroke-width="1.2"/>
<line x1="465.2" y1="35.12" x2="468.9" y2="35.12" stroke="#262626" stroke-width="1.2"/>
<line x1="465.2" y1="53.47" x2="468.9" y2="53.47" stroke="#262626" stroke-width="1.2"/>
<line x1="465.2" y1="71.83" x2="468.9" y2="71.83" stroke="#262626" stroke-width="1.2"/>
<line x1="465.2" y1="90.18" x2="468.9" y2="90.18" stroke="#262626" stroke-width="1.2"/>
<line x1="465.2" y1="102.42" x2="468.9" y2="102.42" stroke="#262626" stroke-width="1.2"/>
<text x="383.2" y="9.8" font-size="12.2" text-anchor="middle" textLength="71" lengthAdjust="spacingAndGlyphs">PAN'11 mail</text>
<text x="463.9" y="11.7" font-size="16.4" text-anchor="end" fill="#000">b</text>
<g shape-rendering="crispEdges">
<rect x="476.60" y="13.70" width="5.79" height="18.86" fill="#942c80"/>
<rect x="481.89" y="13.70" width="5.79" height="18.86" fill="#992d80"/>
<rect x="487.17" y="13.70" width="5.79" height="18.86" fill="#9c2e7f"/>
<rect x="492.46" y="13.70" width="5.79" height="18.86" fill="#a1307e"/>
<rect x="497.75" y="13.70" width="5.79" height="18.86" fill="#aa337d"/>
<rect x="503.04" y="13.70" width="5.79" height="18.86" fill="#ad347c"/>
<rect x="508.32" y="13.70" width="5.79" height="18.86" fill="#b73779"/>
<rect x="513.61" y="13.70" width="5.79" height="18.86" fill="#ba3878"/>
<rect x="518.90" y="13.70" width="5.79" height="18.86" fill="#c23b75"/>
<rect x="524.18" y="13.70" width="5.79" height="18.86" fill="#c73d73"/>
<rect x="529.47" y="13.70" width="5.79" height="18.86" fill="#cf4070"/>
<rect x="534.76" y="13.70" width="5.79" height="18.86" fill="#d6456c"/>
<rect x="540.05" y="13.70" width="5.79" height="18.86" fill="#de4968"/>
<rect x="545.33" y="13.70" width="5.79" height="18.86" fill="#e44f64"/>
<rect x="550.62" y="13.70" width="5.79" height="18.86" fill="#ea5661"/>
<rect x="555.91" y="13.70" width="5.79" height="18.86" fill="#f2625d"/>
<rect x="561.19" y="13.70" width="5.79" height="18.86" fill="#f7705c"/>
<rect x="566.48" y="13.70" width="5.79" height="18.86" fill="#f9795d"/>
<rect x="571.77" y="13.70" width="5.79" height="18.86" fill="#fc8c63"/>
<rect x="577.05" y="13.70" width="5.79" height="18.86" fill="#fd9b6b"/>
<rect x="582.34" y="13.70" width="5.79" height="18.86" fill="#fea973"/>
<rect x="587.63" y="13.70" width="5.79" height="18.86" fill="#febd82"/>
<rect x="592.92" y="13.70" width="11.07" height="18.86" fill="#fec68a"/>
<rect x="603.49" y="13.70" width="5.79" height="18.86" fill="#feb77e"/>
<rect x="608.78" y="13.70" width="5.79" height="18.86" fill="#fe9f6d"/>
<rect x="614.06" y="13.70" width="5.79" height="18.86" fill="#f9795d"/>
<rect x="619.35" y="13.70" width="5.79" height="18.86" fill="#e44f64"/>
<rect x="624.64" y="13.70" width="5.79" height="18.86" fill="#b73779"/>
<rect x="629.93" y="13.70" width="5.79" height="18.86" fill="#8c2981"/>
<rect x="635.21" y="13.70" width="5.79" height="18.86" fill="#59157e"/>
<rect x="476.60" y="32.06" width="5.79" height="6.62" fill="#942c80"/>
<rect x="481.89" y="32.06" width="5.79" height="6.62" fill="#992d80"/>
<rect x="487.17" y="32.06" width="5.79" height="6.62" fill="#9c2e7f"/>
<rect x="492.46" y="32.06" width="5.79" height="6.62" fill="#a5317e"/>
<rect x="497.75" y="32.06" width="5.79" height="6.62" fill="#aa337d"/>
<rect x="503.04" y="32.06" width="5.79" height="6.62" fill="#b2357b"/>
<rect x="508.32" y="32.06" width="5.79" height="6.62" fill="#b73779"/>
<rect x="513.61" y="32.06" width="5.79" height="6.62" fill="#bf3a77"/>
<rect x="518.90" y="32.06" width="5.79" height="6.62" fill="#c23b75"/>
<rect x="524.18" y="32.06" width="5.79" height="6.62" fill="#ca3e72"/>
<rect x="529.47" y="32.06" width="5.79" height="6.62" fill="#d2426f"/>
<rect x="534.76" y="32.06" width="5.79" height="6.62" fill="#db476a"/>
<rect x="540.05" y="32.06" width="5.79" height="6.62" fill="#e24d66"/>
<rect x="545.33" y="32.06" width="5.79" height="6.62" fill="#e85362"/>
<rect x="550.62" y="32.06" width="5.79" height="6.62" fill="#ed5a5f"/>
<rect x="555.91" y="32.06" width="5.79" height="6.62" fill="#f4675c"/>
<rect x="561.19" y="32.06" width="5.79" height="6.62" fill="#f8745c"/>
<rect x="566.48" y="32.06" width="5.79" height="6.62" fill="#fa7d5e"/>
<rect x="571.77" y="32.06" width="5.79" height="6.62" fill="#fd9266"/>
<rect x="577.05" y="32.06" width="5.79" height="6.62" fill="#fea571"/>
<rect x="582.34" y="32.06" width="5.79" height="6.62" fill="#feb47b"/>
<rect x="587.63" y="32.06" width="5.79" height="6.62" fill="#fec68a"/>
<rect x="592.92" y="32.06" width="5.79" height="6.62" fill="#feca8d"/>
<rect x="598.20" y="32.06" width="5.79" height="6.62" fill="#fec68a"/>
<rect x="603.49" y="32.06" width="5.79" height="6.62" fill="#feb77e"/>
<rect x="608.78" y="32.06" width="5.79" height="6.62" fill="#fe9f6d"/>
<rect x="614.06" y="32.06" width="5.79" height="6.62" fill="#f8745c"/>
<rect x="619.35" y="32.06" width="5.79" height="6.62" fill="#e24d66"/>
<rect x="624.64" y="32.06" width="5.79" height="6.62" fill="#b73779"/>
<rect x="629.93" y="32.06" width="5.79" height="6.62" fill="#8c2981"/>
<rect x="635.21" y="32.06" width="5.79" height="6.62" fill="#59157e"/>
<rect x="476.60" y="38.17" width="5.79" height="6.62" fill="#992d80"/>
<rect x="481.89" y="38.17" width="5.79" height="6.62" fill="#9c2e7f"/>
<rect x="487.17" y="38.17" width="5.79" height="6.62" fill="#a1307e"/>
<rect x="492.46" y="38.17" width="5.79" height="6.62" fill="#a5317e"/>
<rect x="497.75" y="38.17" width="5.79" height="6.62" fill="#ad347c"/>
<rect x="503.04" y="38.17" width="5.79" height="6.62" fill="#b2357b"/>
<rect x="508.32" y="38.17" width="5.79" height="6.62" fill="#ba3878"/>
<rect x="513.61" y="38.17" width="5.79" height="6.62" fill="#bf3a77"/>
<rect x="518.90" y="38.17" width="5.79" height="6.62" fill="#c73d73"/>
<rect x="524.18" y="38.17" width="5.79" height="6.62" fill="#ca3e72"/>
<rect x="529.47" y="38.17" width="5.79" height="6.62" fill="#d2426f"/>
<rect x="534.76" y="38.17" width="5.79" height="6.62" fill="#db476a"/>
<rect x="540.05" y="38.17" width="5.79" height="6.62" fill="#e24d66"/>
<rect x="545.33" y="38.17" width="5.79" height="6.62" fill="#e85362"/>
<rect x="550.62" y="38.17" width="5.79" height="6.62" fill="#ef5d5e"/>
<rect x="555.91" y="38.17" width="5.79" height="6.62" fill="#f56b5c"/>
<rect x="561.19" y="38.17" width="5.79" height="6.62" fill="#f9795d"/>
<rect x="566.48" y="38.17" width="5.79" height="6.62" fill="#fb835f"/>
<rect x="571.77" y="38.17" width="5.79" height="6.62" fill="#fd9b6b"/>
<rect x="577.05" y="38.17" width="5.79" height="6.62" fill="#fea973"/>
<rect x="582.34" y="38.17" width="5.79" height="6.62" fill="#febd82"/>
<rect x="587.63" y="38.17" width="11.07" height="6.62" fill="#fecf92"/>
<rect x="598.20" y="38.17" width="5.79" height="6.62" fill="#feca8d"/>
<rect x="603.49" y="38.17" width="5.79" height="6.62" fill="#feb77e"/>
<rect x="608.78" y="38.17" width="5.79" height="6.62" fill="#fd9b6b"/>
<rect x="614.06" y="38.17" width="5.79" height="6.62" fill="#f8745c"/>
<rect x="619.35" y="38.17" width="5.79" height="6.62" fill="#e24d66"/>
<rect x="624.64" y="38.17" width="5.79" height="6.62" fill="#b2357b"/>
<rect x="629.93" y="38.17" width="5.79" height="6.62" fill="#882781"/>
<rect x="635.21" y="38.17" width="5.79" height="6.62" fill="#59157e"/>
<rect x="476.60" y="44.29" width="5.79" height="6.62" fill="#992d80"/>
<rect x="481.89" y="44.29" width="5.79" height="6.62" fill="#9c2e7f"/>
<rect x="487.17" y="44.29" width="5.79" height="6.62" fill="#a1307e"/>
<rect x="492.46" y="44.29" width="5.79" height="6.62" fill="#aa337d"/>
<rect x="497.75" y="44.29" width="5.79" height="6.62" fill="#ad347c"/>
<rect x="503.04" y="44.29" width="5.79" height="6.62" fill="#b73779"/>
<rect x="508.32" y="44.29" width="5.79" height="6.62" fill="#ba3878"/>
<rect x="513.61" y="44.29" width="5.79" height="6.62" fill="#c23b75"/>
<rect x="518.90" y="44.29" width="5.79" height="6.62" fill="#c73d73"/>
<rect x="524.18" y="44.29" width="5.79" height="6.62" fill="#cf4070"/>
<rect x="529.47" y="44.29" width="5.79" height="6.62" fill="#d6456c"/>
<rect x="534.76" y="44.29" width="5.79" height="6.62" fill="#de4968"/>
<rect x="540.05" y="44.29" width="5.79" height="6.62" fill="#e44f64"/>
<rect x="545.33" y="44.29" width="5.79" height="6.62" fill="#ea5661"/>
<rect x="550.62" y="44.29" width="5.79" height="6.62" fill="#ef5d5e"/>
<rect x="555.91" y="44.29" width="5.79" height="6.62" fill="#f56b5c"/>
<rect x="561.19" y="44.29" width="5.79" height="6.62" fill="#fa7d5e"/>
<rect x="566.48" y="44.29" width="5.79" height="6.62" fill="#fc8c63"/>
<rect x="571.77" y="44.29" width="5.79" height="6.62" fill="#fe9f6d"/>
<rect x="577.05" y="44.29" width="5.79" height="6.62" fill="#feb47b"/>
<rect x="582.34" y="44.29" width="5.79" height="6.62" fill="#fec68a"/>
<rect x="587.63" y="44.29" width="5.79" height="6.62" fill="#fed89a"/>
<rect x="592.92" y="44.29" width="5.79" height="6.62" fill="#fed395"/>
<rect x="598.20" y="44.29" width="5.79" height="6.62" fill="#feca8d"/>
<rect x="603.49" y="44.29" width="5.79" height="6.62" fill="#feb77e"/>
<rect x="608.78" y="44.29" width="5.79" height="6.62" fill="#fd9b6b"/>
<rect x="614.06" y="44.29" width="5.79" height="6.62" fill="#f7705c"/>
<rect x="619.35" y="44.29" width="5.79" height="6.62" fill="#de4968"/>
<rect x="624.64" y="44.29" width="5.79" height="6.62" fill="#b2357b"/>
<rect x="629.93" y="44.29" width="5.79" height="6.62" fill="#882781"/>
<rect x="635.21" y="44.29" width="5.79" height="6.62" fill="#59157e"/>
<rect x="476.60" y="50.41" width="5.79" height="6.62" fill="#9c2e7f"/>
<rect x="481.89" y="50.41" width="5.79" height="6.62" fill="#a1307e"/>
<rect x="487.17" y="50.41" width="5.79" height="6.62" fill="#a5317e"/>
<rect x="492.46" y="50.41" width="5.79" height="6.62" fill="#aa337d"/>
<rect x="497.75" y="50.41" width="5.79" height="6.62" fill="#b2357b"/>
<rect x="503.04" y="50.41" width="5.79" height="6.62" fill="#b73779"/>
<rect x="508.32" y="50.41" width="5.79" height="6.62" fill="#bf3a77"/>
<rect x="513.61" y="50.41" width="5.79" height="6.62" fill="#c23b75"/>
<rect x="518.90" y="50.41" width="5.79" height="6.62" fill="#ca3e72"/>
<rect x="524.18" y="50.41" width="5.79" height="6.62" fill="#cf4070"/>
<rect x="529.47" y="50.41" width="5.79" height="6.62" fill="#d6456c"/>
<rect x="534.76" y="50.41" width="5.79" height="6.62" fill="#de4968"/>
<rect x="540.05" y="50.41" width="5.79" height="6.62" fill="#e44f64"/>
<rect x="545.33" y="50.41" width="5.79" height="6.62" fill="#ea5661"/>
<rect x="550.62" y="50.41" width="5.79" height="6.62" fill="#f2625d"/>
<rect x="555.91" y="50.41" width="5.79" height="6.62" fill="#f7705c"/>
<rect x="561.19" y="50.41" width="5.79" height="6.62" fill="#fb835f"/>
<rect x="566.48" y="50.41" width="5.79" height="6.62" fill="#fd9266"/>
<rect x="571.77" y="50.41" width="5.79" height="6.62" fill="#fea973"/>
<rect x="577.05" y="50.41" width="5.79" height="6.62" fill="#febd82"/>
<rect x="582.34" y="50.41" width="5.79" height="6.62" fill="#feca8d"/>
<rect x="587.63" y="50.41" width="5.79" height="6.62" fill="#fde2a3"/>
<rect x="592.92" y="50.41" width="5.79" height="6.62" fill="#fed89a"/>
<rect x="598.20" y="50.41" width="5.79" height="6.62" fill="#feca8d"/>
<rect x="603.49" y="50.41" width="5.79" height="6.62" fill="#feb77e"/>
<rect x="608.78" y="50.41" width="5.79" height="6.62" fill="#fd9b6b"/>
<rect x="614.06" y="50.41" width="5.79" height="6.62" fill="#f7705c"/>
<rect x="619.35" y="50.41" width="5.79" height="6.62" fill="#de4968"/>
<rect x="624.64" y="50.41" width="5.79" height="6.62" fill="#ad347c"/>
<rect x="629.93" y="50.41" width="5.79" height="6.62" fill="#842681"/>
<rect x="635.21" y="50.41" width="5.79" height="6.62" fill="#59157e"/>
<rect x="476.60" y="56.53" width="5.79" height="6.62" fill="#9c2e7f"/>
<rect x="481.89" y="56.53" width="5.79" height="6.62" fill="#a1307e"/>
<rect x="487.17" y="56.53" width="5.79" height="6.62" fill="#a5317e"/>
<rect x="492.46" y="56.53" width="5.79" height="6.62" fill="#ad347c"/>
<rect x="497.75" y="56.53" width="5.79" height="6.62" fill="#b2357b"/>
<rect x="503.04" y="56.53" width="5.79" height="6.62" fill="#ba3878"/>
<rect x="508.32" y="56.53" width="5.79" height="6.62" fill="#bf3a77"/>
<rect x="513.61" y="56.53" width="5.79" height="6.62" fill="#c73d73"/>
<rect x="518.90" y="56.53" width="5.79" height="6.62" fill="#ca3e72"/>
<rect x="524.18" y="56.53" width="5.79" height="6.62" fill="#d2426f"/>
<rect x="529.47" y="56.53" width="5.79" height="6.62" fill="#db476a"/>
<rect x="534.76" y="56.53" width="5.79" height="6.62" fill="#e24d66"/>
<rect x="540.05" y="56.53" width="5.79" height="6.62" fill="#e85362"/>
<rect x="545.33" y="56.53" width="5.79" height="6.62" fill="#ed5a5f"/>
<rect x="550.62" y="56.53" width="5.79" height="6.62" fill="#f4675c"/>
<rect x="555.91" y="56.53" width="5.79" height="6.62" fill="#f8745c"/>
<rect x="561.19" y="56.53" width="5.79" height="6.62" fill="#fc8961"/>
<rect x="566.48" y="56.53" width="5.79" height="6.62" fill="#fd9668"/>
<rect x="571.77" y="56.53" width="5.79" height="6.62" fill="#feae77"/>
<rect x="577.05" y="56.53" width="5.79" height="6.62" fill="#fec185"/>
<rect x="582.34" y="56.53" width="5.79" height="6.62" fill="#fed395"/>
<rect x="587.63" y="56.53" width="5.79" height="6.62" fill="#fdebac"/>
<rect x="592.92" y="56.53" width="5.79" height="6.62" fill="#fddea0"/>
<rect x="598.20" y="56.53" width="5.79" height="6.62" fill="#fecf92"/>
<rect x="603.49" y="56.53" width="5.79" height="6.62" fill="#feb77e"/>
<rect x="608.78" y="56.53" width="5.79" height="6.62" fill="#fd9668"/>
<rect x="614.06" y="56.53" width="5.79" height="6.62" fill="#f56b5c"/>
<rect x="619.35" y="56.53" width="5.79" height="6.62" fill="#db476a"/>
<rect x="624.64" y="56.53" width="5.79" height="6.62" fill="#ad347c"/>
<rect x="629.93" y="56.53" width="5.79" height="6.62" fill="#842681"/>
<rect x="635.21" y="56.53" width="5.79" height="6.62" fill="#59157e"/>
<rect x="476.60" y="62.65" width="5.79" height="6.62" fill="#a1307e"/>
<rect x="481.89" y="62.65" width="5.79" height="6.62" fill="#a5317e"/>
<rect x="487.17" y="62.65" width="5.79" height="6.62" fill="#aa337d"/>
<rect x="492.46" y="62.65" width="5.79" height="6.62" fill="#b2357b"/>
<rect x="497.75" y="62.65" width="5.79" height="6.62" fill="#b73779"/>
<rect x="503.04" y="62.65" width="5.79" height="6.62" fill="#bf3a77"/>
<rect x="508.32" y="62.65" width="5.79" height="6.62" fill="#c23b75"/>
<rect x="513.61" y="62.65" width="5.79" height="6.62" fill="#ca3e72"/>
<rect x="518.90" y="62.65" width="5.79" height="6.62" fill="#cf4070"/>
<rect x="524.18" y="62.65" width="5.79" height="6.62" fill="#d6456c"/>
<rect x="529.47" y="62.65" width="5.79" height="6.62" fill="#de4968"/>
<rect x="534.76" y="62.65" width="5.79" height="6.62" fill="#e44f64"/>
<rect x="540.05" y="62.65" width="5.79" height="6.62" fill="#ea5661"/>
<rect x="545.33" y="62.65" width="5.79" height="6.62" fill="#ef5d5e"/>
<rect x="550.62" y="62.65" width="5.79" height="6.62" fill="#f56b5c"/>
<rect x="555.91" y="62.65" width="5.79" height="6.62" fill="#f9795d"/>
<rect x="561.19" y="62.65" width="5.79" height="6.62" fill="#fc8c63"/>
<rect x="566.48" y="62.65" width="5.79" height="6.62" fill="#fd9b6b"/>
<rect x="571.77" y="62.65" width="5.79" height="6.62" fill="#feb47b"/>
<rect x="577.05" y="62.65" width="5.79" height="6.62" fill="#feca8d"/>
<rect x="582.34" y="62.65" width="5.79" height="6.62" fill="#fddea0"/>
<rect x="587.63" y="62.65" width="5.79" height="6.62" fill="#fcf4b6"/>
<rect x="592.92" y="62.65" width="5.79" height="6.62" fill="#fde2a3"/>
<rect x="598.20" y="62.65" width="5.79" height="6.62" fill="#fecf92"/>
<rect x="603.49" y="62.65" width="5.79" height="6.62" fill="#feb77e"/>
<rect x="608.78" y="62.65" width="5.79" height="6.62" fill="#fd9668"/>
<rect x="614.06" y="62.65" width="5.79" height="6.62" fill="#f4675c"/>
<rect x="619.35" y="62.65" width="5.79" height="6.62" fill="#d6456c"/>
<rect x="624.64" y="62.65" width="5.79" height="6.62" fill="#aa337d"/>
<rect x="629.93" y="62.65" width="5.79" height="6.62" fill="#802582"/>
<rect x="635.21" y="62.65" width="5.79" height="6.62" fill="#59157e"/>
<rect x="476.60" y="68.77" width="5.79" height="6.62" fill="#a1307e"/>
<rect x="481.89" y="68.77" width="5.79" height="6.62" fill="#a5317e"/>
<rect x="487.17" y="68.77" width="5.79" height="6.62" fill="#aa337d"/>
<rect x="492.46" y="68.77" width="5.79" height="6.62" fill="#b2357b"/>
<rect x="497.75" y="68.77" width="5.79" height="6.62" fill="#b73779"/>
<rect x="503.04" y="68.77" width="5.79" height="6.62" fill="#bf3a77"/>
<rect x="508.32" y="68.77" width="5.79" height="6.62" fill="#c23b75"/>
<rect x="513.61" y="68.77" width="5.79" height="6.62" fill="#ca3e72"/>
<rect x="518.90" y="68.77" width="5.79" height="6.62" fill="#cf4070"/>
<rect x="524.18" y="68.77" width="5.79" height="6.62" fill="#d6456c"/>
<rect x="529.47" y="68.77" width="5.79" height="6.62" fill="#de4968"/>
<rect x="534.76" y="68.77" width="5.79" height="6.62" fill="#e44f64"/>
<rect x="540.05" y="68.77" width="5.79" height="6.62" fill="#ea5661"/>
<rect x="545.33" y="68.77" width="5.79" height="6.62" fill="#ef5d5e"/>
<rect x="550.62" y="68.77" width="5.79" height="6.62" fill="#f56b5c"/>
<rect x="555.91" y="68.77" width="5.79" height="6.62" fill="#f9795d"/>
<rect x="561.19" y="68.77" width="5.79" height="6.62" fill="#fc8c63"/>
<rect x="566.48" y="68.77" width="5.79" height="6.62" fill="#fe9f6d"/>
<rect x="571.77" y="68.77" width="5.79" height="6.62" fill="#feb77e"/>
<rect x="577.05" y="68.77" width="5.79" height="6.62" fill="#fecf92"/>
<rect x="582.34" y="68.77" width="5.79" height="6.62" fill="#fde2a3"/>
<rect x="587.63" y="68.77" width="5.79" height="6.62" fill="#fcf9bb"/>
<rect x="592.92" y="68.77" width="5.79" height="6.62" fill="#fde7a9"/>
<rect x="598.20" y="68.77" width="5.79" height="6.62" fill="#fecf92"/>
<rect x="603.49" y="68.77" width="5.79" height="6.62" fill="#feb77e"/>
<rect x="608.78" y="68.77" width="5.79" height="6.62" fill="#fd9668"/>
<rect x="614.06" y="68.77" width="5.79" height="6.62" fill="#f4675c"/>
<rect x="619.35" y="68.77" width="5.79" height="6.62" fill="#d6456c"/>
<rect x="624.64" y="68.77" width="5.79" height="6.62" fill="#aa337d"/>
<rect x="629.93" y="68.77" width="5.79" height="6.62" fill="#802582"/>
<rect x="635.21" y="68.77" width="5.79" height="6.62" fill="#59157e"/>
<rect x="476.60" y="74.89" width="5.79" height="6.62" fill="#a1307e"/>
<rect x="481.89" y="74.89" width="5.79" height="6.62" fill="#a5317e"/>
<rect x="487.17" y="74.89" width="5.79" height="6.62" fill="#aa337d"/>
<rect x="492.46" y="74.89" width="5.79" height="6.62" fill="#b2357b"/>
<rect x="497.75" y="74.89" width="5.79" height="6.62" fill="#b73779"/>
<rect x="503.04" y="74.89" width="5.79" height="6.62" fill="#bf3a77"/>
<rect x="508.32" y="74.89" width="5.79" height="6.62" fill="#c23b75"/>
<rect x="513.61" y="74.89" width="5.79" height="6.62" fill="#ca3e72"/>
<rect x="518.90" y="74.89" width="5.79" height="6.62" fill="#cf4070"/>
<rect x="524.18" y="74.89" width="5.79" height="6.62" fill="#d6456c"/>
<rect x="529.47" y="74.89" width="5.79" height="6.62" fill="#de4968"/>
<rect x="534.76" y="74.89" width="5.79" height="6.62" fill="#e44f64"/>
<rect x="540.05" y="74.89" width="5.79" height="6.62" fill="#ea5661"/>
<rect x="545.33" y="74.89" width="5.79" height="6.62" fill="#ef5d5e"/>
<rect x="550.62" y="74.89" width="5.79" height="6.62" fill="#f56b5c"/>
<rect x="555.91" y="74.89" width="5.79" height="6.62" fill="#f9795d"/>
<rect x="561.19" y="74.89" width="5.79" height="6.62" fill="#fc8c63"/>
<rect x="566.48" y="74.89" width="5.79" height="6.62" fill="#fe9f6d"/>
<rect x="571.77" y="74.89" width="5.79" height="6.62" fill="#feb77e"/>
<rect x="577.05" y="74.89" width="5.79" height="6.62" fill="#fecf92"/>
<rect x="582.34" y="74.89" width="5.79" height="6.62" fill="#fde2a3"/>
<rect x="587.63" y="74.89" width="5.79" height="6.62" fill="#fcf9bb"/>
<rect x="592.92" y="74.89" width="5.79" height="6.62" fill="#fde7a9"/>
<rect x="598.20" y="74.89" width="5.79" height="6.62" fill="#fecf92"/>
<rect x="603.49" y="74.89" width="5.79" height="6.62" fill="#feb77e"/>
<rect x="608.78" y="74.89" width="5.79" height="6.62" fill="#fd9668"/>
<rect x="614.06" y="74.89" width="5.79" height="6.62" fill="#f4675c"/>
<rect x="619.35" y="74.89" width="5.79" height="6.62" fill="#d6456c"/>
<rect x="624.64" y="74.89" width="5.79" height="6.62" fill="#aa337d"/>
<rect x="629.93" y="74.89" width="5.79" height="6.62" fill="#802582"/>
<rect x="635.21" y="74.89" width="5.79" height="6.62" fill="#59157e"/>
<rect x="476.60" y="81.01" width="5.79" height="6.62" fill="#a1307e"/>
<rect x="481.89" y="81.01" width="5.79" height="6.62" fill="#a5317e"/>
<rect x="487.17" y="81.01" width="5.79" height="6.62" fill="#aa337d"/>
<rect x="492.46" y="81.01" width="5.79" height="6.62" fill="#b2357b"/>
<rect x="497.75" y="81.01" width="5.79" height="6.62" fill="#b73779"/>
<rect x="503.04" y="81.01" width="5.79" height="6.62" fill="#bf3a77"/>
<rect x="508.32" y="81.01" width="5.79" height="6.62" fill="#c23b75"/>
<rect x="513.61" y="81.01" width="5.79" height="6.62" fill="#ca3e72"/>
<rect x="518.90" y="81.01" width="5.79" height="6.62" fill="#cf4070"/>
<rect x="524.18" y="81.01" width="5.79" height="6.62" fill="#d6456c"/>
<rect x="529.47" y="81.01" width="5.79" height="6.62" fill="#de4968"/>
<rect x="534.76" y="81.01" width="5.79" height="6.62" fill="#e44f64"/>
<rect x="540.05" y="81.01" width="5.79" height="6.62" fill="#ea5661"/>
<rect x="545.33" y="81.01" width="5.79" height="6.62" fill="#ef5d5e"/>
<rect x="550.62" y="81.01" width="5.79" height="6.62" fill="#f56b5c"/>
<rect x="555.91" y="81.01" width="5.79" height="6.62" fill="#f9795d"/>
<rect x="561.19" y="81.01" width="5.79" height="6.62" fill="#fc8c63"/>
<rect x="566.48" y="81.01" width="5.79" height="6.62" fill="#fe9f6d"/>
<rect x="571.77" y="81.01" width="5.79" height="6.62" fill="#feb77e"/>
<rect x="577.05" y="81.01" width="5.79" height="6.62" fill="#fecf92"/>
<rect x="582.34" y="81.01" width="5.79" height="6.62" fill="#fde2a3"/>
<rect x="587.63" y="81.01" width="5.79" height="6.62" fill="#fcf9bb"/>
<rect x="592.92" y="81.01" width="5.79" height="6.62" fill="#fde7a9"/>
<rect x="598.20" y="81.01" width="5.79" height="6.62" fill="#fecf92"/>
<rect x="603.49" y="81.01" width="5.79" height="6.62" fill="#feb77e"/>
<rect x="608.78" y="81.01" width="5.79" height="6.62" fill="#fd9668"/>
<rect x="614.06" y="81.01" width="5.79" height="6.62" fill="#f4675c"/>
<rect x="619.35" y="81.01" width="5.79" height="6.62" fill="#d6456c"/>
<rect x="624.64" y="81.01" width="5.79" height="6.62" fill="#aa337d"/>
<rect x="629.93" y="81.01" width="5.79" height="6.62" fill="#802582"/>
<rect x="635.21" y="81.01" width="5.79" height="6.62" fill="#59157e"/>
<rect x="476.60" y="87.12" width="5.79" height="6.62" fill="#a1307e"/>
<rect x="481.89" y="87.12" width="5.79" height="6.62" fill="#a5317e"/>
<rect x="487.17" y="87.12" width="5.79" height="6.62" fill="#aa337d"/>
<rect x="492.46" y="87.12" width="5.79" height="6.62" fill="#b2357b"/>
<rect x="497.75" y="87.12" width="5.79" height="6.62" fill="#b73779"/>
<rect x="503.04" y="87.12" width="5.79" height="6.62" fill="#bf3a77"/>
<rect x="508.32" y="87.12" width="5.79" height="6.62" fill="#c23b75"/>
<rect x="513.61" y="87.12" width="5.79" height="6.62" fill="#ca3e72"/>
<rect x="518.90" y="87.12" width="5.79" height="6.62" fill="#cf4070"/>
<rect x="524.18" y="87.12" width="5.79" height="6.62" fill="#d6456c"/>
<rect x="529.47" y="87.12" width="5.79" height="6.62" fill="#de4968"/>
<rect x="534.76" y="87.12" width="5.79" height="6.62" fill="#e44f64"/>
<rect x="540.05" y="87.12" width="5.79" height="6.62" fill="#ea5661"/>
<rect x="545.33" y="87.12" width="5.79" height="6.62" fill="#ef5d5e"/>
<rect x="550.62" y="87.12" width="5.79" height="6.62" fill="#f56b5c"/>
<rect x="555.91" y="87.12" width="5.79" height="6.62" fill="#f9795d"/>
<rect x="561.19" y="87.12" width="5.79" height="6.62" fill="#fc8c63"/>
<rect x="566.48" y="87.12" width="5.79" height="6.62" fill="#fe9f6d"/>
<rect x="571.77" y="87.12" width="5.79" height="6.62" fill="#feb77e"/>
<rect x="577.05" y="87.12" width="5.79" height="6.62" fill="#fecf92"/>
<rect x="582.34" y="87.12" width="5.79" height="6.62" fill="#fde2a3"/>
<rect x="587.63" y="87.12" width="5.79" height="6.62" fill="#fcf0b2"/>
<rect x="592.92" y="87.12" width="5.79" height="6.62" fill="#fde7a9"/>
<rect x="598.20" y="87.12" width="5.79" height="6.62" fill="#fecf92"/>
<rect x="603.49" y="87.12" width="5.79" height="6.62" fill="#feb77e"/>
<rect x="608.78" y="87.12" width="5.79" height="6.62" fill="#fd9668"/>
<rect x="614.06" y="87.12" width="5.79" height="6.62" fill="#f4675c"/>
<rect x="619.35" y="87.12" width="5.79" height="6.62" fill="#d6456c"/>
<rect x="624.64" y="87.12" width="5.79" height="6.62" fill="#aa337d"/>
<rect x="629.93" y="87.12" width="5.79" height="6.62" fill="#802582"/>
<rect x="635.21" y="87.12" width="5.79" height="6.62" fill="#59157e"/>
<rect x="476.60" y="93.24" width="5.79" height="18.86" fill="#a1307e"/>
<rect x="481.89" y="93.24" width="5.79" height="18.86" fill="#a5317e"/>
<rect x="487.17" y="93.24" width="5.79" height="18.86" fill="#aa337d"/>
<rect x="492.46" y="93.24" width="5.79" height="18.86" fill="#b2357b"/>
<rect x="497.75" y="93.24" width="5.79" height="18.86" fill="#b73779"/>
<rect x="503.04" y="93.24" width="5.79" height="18.86" fill="#bf3a77"/>
<rect x="508.32" y="93.24" width="5.79" height="18.86" fill="#c23b75"/>
<rect x="513.61" y="93.24" width="5.79" height="18.86" fill="#ca3e72"/>
<rect x="518.90" y="93.24" width="5.79" height="18.86" fill="#cf4070"/>
<rect x="524.18" y="93.24" width="5.79" height="18.86" fill="#d6456c"/>
<rect x="529.47" y="93.24" width="5.79" height="18.86" fill="#de4968"/>
<rect x="534.76" y="93.24" width="5.79" height="18.86" fill="#e44f64"/>
<rect x="540.05" y="93.24" width="5.79" height="18.86" fill="#ea5661"/>
<rect x="545.33" y="93.24" width="5.79" height="18.86" fill="#ef5d5e"/>
<rect x="550.62" y="93.24" width="5.79" height="18.86" fill="#f56b5c"/>
<rect x="555.91" y="93.24" width="5.79" height="18.86" fill="#f9795d"/>
<rect x="561.19" y="93.24" width="5.79" height="18.86" fill="#fc8c63"/>
<rect x="566.48" y="93.24" width="5.79" height="18.86" fill="#fe9f6d"/>
<rect x="571.77" y="93.24" width="5.79" height="18.86" fill="#feb77e"/>
<rect x="577.05" y="93.24" width="5.79" height="18.86" fill="#fecf92"/>
<rect x="582.34" y="93.24" width="5.79" height="18.86" fill="#fde2a3"/>
<rect x="587.63" y="93.24" width="5.79" height="18.86" fill="#fdebac"/>
<rect x="592.92" y="93.24" width="5.79" height="18.86" fill="#fde7a9"/>
<rect x="598.20" y="93.24" width="5.79" height="18.86" fill="#fecf92"/>
<rect x="603.49" y="93.24" width="5.79" height="18.86" fill="#feb77e"/>
<rect x="608.78" y="93.24" width="5.79" height="18.86" fill="#fd9668"/>
<rect x="614.06" y="93.24" width="5.79" height="18.86" fill="#f4675c"/>
<rect x="619.35" y="93.24" width="5.79" height="18.86" fill="#d6456c"/>
<rect x="624.64" y="93.24" width="5.79" height="18.86" fill="#aa337d"/>
<rect x="629.93" y="93.24" width="5.79" height="18.86" fill="#802582"/>
<rect x="635.21" y="93.24" width="5.79" height="18.86" fill="#59157e"/>
</g>
<line x1="476.6" y1="32.36" x2="640.5" y2="32.36" stroke="#a4a4a4" stroke-width="1.05"/>
<line x1="476.6" y1="93.54" x2="640.5" y2="93.54" stroke="#a4a4a4" stroke-width="1.05"/>
<rect x="476.6" y="13.7" width="163.90" height="97.90" fill="none" stroke="#262626" stroke-width="1.25"/>
<line x1="479.24" y1="111.6" x2="479.24" y2="117.6" stroke="#262626" stroke-width="1.25"/>
<text x="483.04" y="128.9" font-size="10.2" text-anchor="middle" textLength="22.3" lengthAdjust="spacingAndGlyphs">0.01</text>
<line x1="532.11" y1="111.6" x2="532.11" y2="117.6" stroke="#262626" stroke-width="1.25"/>
<text x="532.11" y="128.9" font-size="10.2" text-anchor="middle" textLength="15.9" lengthAdjust="spacingAndGlyphs">0.1</text>
<line x1="584.99" y1="111.6" x2="584.99" y2="117.6" stroke="#262626" stroke-width="1.25"/>
<text x="584.99" y="128.9" font-size="10.2" text-anchor="middle" textLength="15.9" lengthAdjust="spacingAndGlyphs">1.0</text>
<line x1="637.86" y1="111.6" x2="637.86" y2="117.6" stroke="#262626" stroke-width="1.25"/>
<text x="637.86" y="128.9" font-size="10.2" text-anchor="middle" textLength="12.7" lengthAdjust="spacingAndGlyphs">10</text>
<text x="558.75" y="142.4" font-size="13" text-anchor="middle" font-style="italic">δ</text>
<line x1="640.5" y1="22.88" x2="646.5" y2="22.88" stroke="#262626" stroke-width="1.25"/>
<text x="649.5" y="26.73" font-size="10.7" textLength="12.6" lengthAdjust="spacingAndGlyphs">10</text>
<text x="662.4" y="22.88" font-size="7.8" textLength="5.0" lengthAdjust="spacingAndGlyphs">0</text>
<line x1="640.5" y1="35.12" x2="646.5" y2="35.12" stroke="#262626" stroke-width="1.25"/>
<text x="649.5" y="38.97" font-size="10.7" textLength="12.6" lengthAdjust="spacingAndGlyphs">10</text>
<text x="662.4" y="35.12" font-size="7.8" textLength="5.0" lengthAdjust="spacingAndGlyphs">1</text>
<line x1="640.5" y1="53.47" x2="646.5" y2="53.47" stroke="#262626" stroke-width="1.25"/>
<text x="649.5" y="57.32" font-size="10.7" textLength="12.6" lengthAdjust="spacingAndGlyphs">10</text>
<text x="662.4" y="53.47" font-size="7.8" textLength="5.0" lengthAdjust="spacingAndGlyphs">2</text>
<line x1="640.5" y1="71.83" x2="646.5" y2="71.83" stroke="#262626" stroke-width="1.25"/>
<text x="649.5" y="75.68" font-size="10.7" textLength="12.6" lengthAdjust="spacingAndGlyphs">10</text>
<text x="662.4" y="71.83" font-size="7.8" textLength="5.0" lengthAdjust="spacingAndGlyphs">3</text>
<line x1="640.5" y1="90.18" x2="646.5" y2="90.18" stroke="#262626" stroke-width="1.25"/>
<text x="649.5" y="94.03" font-size="10.7" textLength="12.6" lengthAdjust="spacingAndGlyphs">10</text>
<text x="662.4" y="90.18" font-size="7.8" textLength="5.0" lengthAdjust="spacingAndGlyphs">4</text>
<line x1="640.5" y1="102.42" x2="646.5" y2="102.42" stroke="#262626" stroke-width="1.25"/>
<text x="649.7" y="106.22" font-size="10.4" textLength="17.5" lengthAdjust="spacingAndGlyphs">F.T.</text>
<text x="558.55" y="9.8" font-size="12.2" text-anchor="middle" textLength="53.5" lengthAdjust="spacingAndGlyphs">Blog - 1k</text>
<text x="638.9" y="9.7" font-size="16.4" text-anchor="end" fill="#000">c</text>
<g shape-rendering="crispEdges">
<rect x="125.80" y="163.50" width="5.79" height="15.99" fill="#de4968"/>
<rect x="131.09" y="163.50" width="11.08" height="15.99" fill="#e24d66"/>
<rect x="141.67" y="163.50" width="5.79" height="15.99" fill="#e44f64"/>
<rect x="146.96" y="163.50" width="5.79" height="15.99" fill="#e85362"/>
<rect x="152.25" y="163.50" width="5.79" height="15.99" fill="#ea5661"/>
<rect x="157.54" y="163.50" width="5.79" height="15.99" fill="#ed5a5f"/>
<rect x="162.83" y="163.50" width="5.79" height="15.99" fill="#ef5d5e"/>
<rect x="168.12" y="163.50" width="5.79" height="15.99" fill="#f2625d"/>
<rect x="173.41" y="163.50" width="5.79" height="15.99" fill="#f56b5c"/>
<rect x="178.70" y="163.50" width="5.79" height="15.99" fill="#f8745c"/>
<rect x="183.99" y="163.50" width="5.79" height="15.99" fill="#f9795d"/>
<rect x="189.28" y="163.50" width="5.79" height="15.99" fill="#fa7d5e"/>
<rect x="194.57" y="163.50" width="5.79" height="15.99" fill="#fb835f"/>
<rect x="199.86" y="163.50" width="5.79" height="15.99" fill="#fc8c63"/>
<rect x="205.15" y="163.50" width="5.79" height="15.99" fill="#fd9668"/>
<rect x="210.45" y="163.50" width="5.79" height="15.99" fill="#fea571"/>
<rect x="215.74" y="163.50" width="11.08" height="15.99" fill="#fec68a"/>
<rect x="226.32" y="163.50" width="5.79" height="15.99" fill="#feb77e"/>
<rect x="231.61" y="163.50" width="5.79" height="15.99" fill="#fcfdbf"/>
<rect x="236.90" y="163.50" width="5.79" height="15.99" fill="#feb77e"/>
<rect x="242.19" y="163.50" width="5.79" height="15.99" fill="#fd9668"/>
<rect x="247.48" y="163.50" width="5.79" height="15.99" fill="#f2625d"/>
<rect x="252.77" y="163.50" width="5.79" height="15.99" fill="#ca3e72"/>
<rect x="258.06" y="163.50" width="5.79" height="15.99" fill="#902a81"/>
<rect x="263.35" y="163.50" width="5.79" height="15.99" fill="#54137d"/>
<rect x="268.64" y="163.50" width="5.79" height="15.99" fill="#1a1042"/>
<rect x="273.93" y="163.50" width="5.79" height="15.99" fill="#050416"/>
<rect x="279.22" y="163.50" width="11.08" height="15.99" fill="#000004"/>
<rect x="125.80" y="178.99" width="5.79" height="5.66" fill="#db476a"/>
<rect x="131.09" y="178.99" width="5.79" height="5.66" fill="#de4968"/>
<rect x="136.38" y="178.99" width="16.37" height="5.66" fill="#e24d66"/>
<rect x="152.25" y="178.99" width="5.79" height="5.66" fill="#e85362"/>
<rect x="157.54" y="178.99" width="5.79" height="5.66" fill="#ef5d5e"/>
<rect x="162.83" y="178.99" width="16.37" height="5.66" fill="#f2625d"/>
<rect x="178.70" y="178.99" width="5.79" height="5.66" fill="#f4675c"/>
<rect x="183.99" y="178.99" width="5.79" height="5.66" fill="#f8745c"/>
<rect x="189.28" y="178.99" width="5.79" height="5.66" fill="#f9795d"/>
<rect x="194.57" y="178.99" width="5.79" height="5.66" fill="#fa7d5e"/>
<rect x="199.86" y="178.99" width="5.79" height="5.66" fill="#fc8c63"/>
<rect x="205.15" y="178.99" width="5.79" height="5.66" fill="#fd9b6b"/>
<rect x="210.45" y="178.99" width="5.79" height="5.66" fill="#fea973"/>
<rect x="215.74" y="178.99" width="5.79" height="5.66" fill="#fec68a"/>
<rect x="221.03" y="178.99" width="16.37" height="5.66" fill="#fecf92"/>
<rect x="236.90" y="178.99" width="5.79" height="5.66" fill="#feb47b"/>
<rect x="242.19" y="178.99" width="5.79" height="5.66" fill="#fd9668"/>
<rect x="247.48" y="178.99" width="5.79" height="5.66" fill="#f2625d"/>
<rect x="252.77" y="178.99" width="5.79" height="5.66" fill="#ca3e72"/>
<rect x="258.06" y="178.99" width="5.79" height="5.66" fill="#902a81"/>
<rect x="263.35" y="178.99" width="5.79" height="5.66" fill="#54137d"/>
<rect x="268.64" y="178.99" width="5.79" height="5.66" fill="#1a1042"/>
<rect x="273.93" y="178.99" width="5.79" height="5.66" fill="#03030f"/>
<rect x="279.22" y="178.99" width="11.08" height="5.66" fill="#000004"/>
<rect x="125.80" y="184.15" width="5.79" height="5.66" fill="#de4968"/>
<rect x="131.09" y="184.15" width="5.79" height="5.66" fill="#e24d66"/>
<rect x="136.38" y="184.15" width="16.37" height="5.66" fill="#e44f64"/>
<rect x="152.25" y="184.15" width="5.79" height="5.66" fill="#e85362"/>
<rect x="157.54" y="184.15" width="5.79" height="5.66" fill="#ef5d5e"/>
<rect x="162.83" y="184.15" width="16.37" height="5.66" fill="#f2625d"/>
<rect x="178.70" y="184.15" width="5.79" height="5.66" fill="#f56b5c"/>
<rect x="183.99" y="184.15" width="5.79" height="5.66" fill="#f9795d"/>
<rect x="189.28" y="184.15" width="5.79" height="5.66" fill="#fa7d5e"/>
<rect x="194.57" y="184.15" width="5.79" height="5.66" fill="#fb835f"/>
<rect x="199.86" y="184.15" width="5.79" height="5.66" fill="#fd9266"/>
<rect x="205.15" y="184.15" width="5.79" height="5.66" fill="#fe9f6d"/>
<rect x="210.45" y="184.15" width="5.79" height="5.66" fill="#feae77"/>
<rect x="215.74" y="184.15" width="5.79" height="5.66" fill="#feca8d"/>
<rect x="221.03" y="184.15" width="5.79" height="5.66" fill="#fed395"/>
<rect x="226.32" y="184.15" width="5.79" height="5.66" fill="#fddea0"/>
<rect x="231.61" y="184.15" width="5.79" height="5.66" fill="#fed395"/>
<rect x="236.90" y="184.15" width="5.79" height="5.66" fill="#feb47b"/>
<rect x="242.19" y="184.15" width="5.79" height="5.66" fill="#fd9266"/>
<rect x="247.48" y="184.15" width="5.79" height="5.66" fill="#f2625d"/>
<rect x="252.77" y="184.15" width="5.79" height="5.66" fill="#ca3e72"/>
<rect x="258.06" y="184.15" width="5.79" height="5.66" fill="#902a81"/>
<rect x="263.35" y="184.15" width="5.79" height="5.66" fill="#51127c"/>
<rect x="268.64" y="184.15" width="5.79" height="5.66" fill="#180f3d"/>
<rect x="273.93" y="184.15" width="5.79" height="5.66" fill="#03030f"/>
<rect x="279.22" y="184.15" width="11.08" height="5.66" fill="#000004"/>
<rect x="125.80" y="189.32" width="26.95" height="5.66" fill="#e44f64"/>
<rect x="152.25" y="189.32" width="5.79" height="5.66" fill="#ea5661"/>
<rect x="157.54" y="189.32" width="5.79" height="5.66" fill="#f2625d"/>
<rect x="162.83" y="189.32" width="11.08" height="5.66" fill="#f4675c"/>
<rect x="173.41" y="189.32" width="5.79" height="5.66" fill="#f7705c"/>
<rect x="178.70" y="189.32" width="5.79" height="5.66" fill="#fa7d5e"/>
<rect x="183.99" y="189.32" width="11.08" height="5.66" fill="#fc8961"/>
<rect x="194.57" y="189.32" width="5.79" height="5.66" fill="#fc8c63"/>
<rect x="199.86" y="189.32" width="5.79" height="5.66" fill="#fd9b6b"/>
<rect x="205.15" y="189.32" width="5.79" height="5.66" fill="#fea973"/>
<rect x="210.45" y="189.32" width="5.79" height="5.66" fill="#feae77"/>
<rect x="215.74" y="189.32" width="5.79" height="5.66" fill="#feca8d"/>
<rect x="221.03" y="189.32" width="16.37" height="5.66" fill="#fecf92"/>
<rect x="236.90" y="189.32" width="5.79" height="5.66" fill="#feae77"/>
<rect x="242.19" y="189.32" width="5.79" height="5.66" fill="#fc8c63"/>
<rect x="247.48" y="189.32" width="5.79" height="5.66" fill="#ed5a5f"/>
<rect x="252.77" y="189.32" width="5.79" height="5.66" fill="#c23b75"/>
<rect x="258.06" y="189.32" width="5.79" height="5.66" fill="#882781"/>
<rect x="263.35" y="189.32" width="5.79" height="5.66" fill="#4c117a"/>
<rect x="268.64" y="189.32" width="5.79" height="5.66" fill="#180f3d"/>
<rect x="273.93" y="189.32" width="5.79" height="5.66" fill="#02020b"/>
<rect x="279.22" y="189.32" width="11.08" height="5.66" fill="#000004"/>
<rect x="125.80" y="194.48" width="26.95" height="5.66" fill="#e44f64"/>
<rect x="152.25" y="194.48" width="5.79" height="5.66" fill="#ea5661"/>
<rect x="157.54" y="194.48" width="5.79" height="5.66" fill="#f4675c"/>
<rect x="162.83" y="194.48" width="11.08" height="5.66" fill="#f7705c"/>
<rect x="173.41" y="194.48" width="5.79" height="5.66" fill="#f8745c"/>
<rect x="178.70" y="194.48" width="5.79" height="5.66" fill="#fb835f"/>
<rect x="183.99" y="194.48" width="5.79" height="5.66" fill="#fc8961"/>
<rect x="189.28" y="194.48" width="5.79" height="5.66" fill="#fd9266"/>
<rect x="194.57" y="194.48" width="5.79" height="5.66" fill="#fea571"/>
<rect x="199.86" y="194.48" width="5.79" height="5.66" fill="#feae77"/>
<rect x="205.15" y="194.48" width="5.79" height="5.66" fill="#feb47b"/>
<rect x="210.45" y="194.48" width="5.79" height="5.66" fill="#febd82"/>
<rect x="215.74" y="194.48" width="11.08" height="5.66" fill="#fed395"/>
<rect x="226.32" y="194.48" width="5.79" height="5.66" fill="#fecf92"/>
<rect x="231.61" y="194.48" width="5.79" height="5.66" fill="#feca8d"/>
<rect x="236.90" y="194.48" width="5.79" height="5.66" fill="#fea973"/>
<rect x="242.19" y="194.48" width="5.79" height="5.66" fill="#fb835f"/>
<rect x="247.48" y="194.48" width="5.79" height="5.66" fill="#e85362"/>
<rect x="252.77" y="194.48" width="5.79" height="5.66" fill="#b73779"/>
<rect x="258.06" y="194.48" width="5.79" height="5.66" fill="#802582"/>
<rect x="263.35" y="194.48" width="5.79" height="5.66" fill="#471078"/>
<rect x="268.64" y="194.48" width="5.79" height="5.66" fill="#140e36"/>
<rect x="273.93" y="194.48" width="5.79" height="5.66" fill="#02020b"/>
<rect x="279.22" y="194.48" width="11.08" height="5.66" fill="#000004"/>
<rect x="125.80" y="199.64" width="26.95" height="5.66" fill="#ea5661"/>
<rect x="152.25" y="199.64" width="5.79" height="5.66" fill="#ef5d5e"/>
<rect x="157.54" y="199.64" width="5.79" height="5.66" fill="#f56b5c"/>
<rect x="162.83" y="199.64" width="11.08" height="5.66" fill="#f7705c"/>
<rect x="173.41" y="199.64" width="5.79" height="5.66" fill="#f9795d"/>
<rect x="178.70" y="199.64" width="5.79" height="5.66" fill="#fd9266"/>
<rect x="183.99" y="199.64" width="5.79" height="5.66" fill="#fea571"/>
<rect x="189.28" y="199.64" width="5.79" height="5.66" fill="#fea973"/>
<rect x="194.57" y="199.64" width="5.79" height="5.66" fill="#feae77"/>
<rect x="199.86" y="199.64" width="5.79" height="5.66" fill="#feb47b"/>
<rect x="205.15" y="199.64" width="5.79" height="5.66" fill="#feb77e"/>
<rect x="210.45" y="199.64" width="5.79" height="5.66" fill="#fec68a"/>
<rect x="215.74" y="199.64" width="5.79" height="5.66" fill="#fed89a"/>
<rect x="221.03" y="199.64" width="5.79" height="5.66" fill="#fed395"/>
<rect x="226.32" y="199.64" width="5.79" height="5.66" fill="#fecf92"/>
<rect x="231.61" y="199.64" width="5.79" height="5.66" fill="#fec68a"/>
<rect x="236.90" y="199.64" width="5.79" height="5.66" fill="#fe9f6d"/>
<rect x="242.19" y="199.64" width="5.79" height="5.66" fill="#f8745c"/>
<rect x="247.48" y="199.64" width="5.79" height="5.66" fill="#de4968"/>
<rect x="252.77" y="199.64" width="5.79" height="5.66" fill="#ad347c"/>
<rect x="258.06" y="199.64" width="5.79" height="5.66" fill="#782281"/>
<rect x="263.35" y="199.64" width="5.79" height="5.66" fill="#3f0f72"/>
<rect x="268.64" y="199.64" width="5.79" height="5.66" fill="#120d31"/>
<rect x="273.93" y="199.64" width="5.79" height="5.66" fill="#02020b"/>
<rect x="279.22" y="199.64" width="11.08" height="5.66" fill="#000004"/>
<rect x="125.80" y="204.81" width="16.37" height="5.66" fill="#ef5d5e"/>
<rect x="141.67" y="204.81" width="5.79" height="5.66" fill="#f2625d"/>
<rect x="146.96" y="204.81" width="5.79" height="5.66" fill="#f56b5c"/>
<rect x="152.25" y="204.81" width="5.79" height="5.66" fill="#f7705c"/>
<rect x="157.54" y="204.81" width="5.79" height="5.66" fill="#f8745c"/>
<rect x="162.83" y="204.81" width="11.08" height="5.66" fill="#f9795d"/>
<rect x="173.41" y="204.81" width="5.79" height="5.66" fill="#fb835f"/>
<rect x="178.70" y="204.81" width="5.79" height="5.66" fill="#fd9b6b"/>
<rect x="183.99" y="204.81" width="5.79" height="5.66" fill="#feae77"/>
<rect x="189.28" y="204.81" width="5.79" height="5.66" fill="#feb47b"/>
<rect x="194.57" y="204.81" width="5.79" height="5.66" fill="#feb77e"/>
<rect x="199.86" y="204.81" width="16.37" height="5.66" fill="#febd82"/>
<rect x="215.74" y="204.81" width="5.79" height="5.66" fill="#fcfdbf"/>
<rect x="221.03" y="204.81" width="5.79" height="5.66" fill="#fec185"/>
<rect x="226.32" y="204.81" width="5.79" height="5.66" fill="#fcfdbf"/>
<rect x="231.61" y="204.81" width="5.79" height="5.66" fill="#feb77e"/>
<rect x="236.90" y="204.81" width="5.79" height="5.66" fill="#fd9668"/>
<rect x="242.19" y="204.81" width="5.79" height="5.66" fill="#f4675c"/>
<rect x="247.48" y="204.81" width="5.79" height="5.66" fill="#d2426f"/>
<rect x="252.77" y="204.81" width="5.79" height="5.66" fill="#a1307e"/>
<rect x="258.06" y="204.81" width="5.79" height="5.66" fill="#6b1d81"/>
<rect x="263.35" y="204.81" width="5.79" height="5.66" fill="#3b0f70"/>
<rect x="268.64" y="204.81" width="5.79" height="5.66" fill="#120d31"/>
<rect x="273.93" y="204.81" width="5.79" height="5.66" fill="#02020b"/>
<rect x="279.22" y="204.81" width="11.08" height="5.66" fill="#000004"/>
<rect x="125.80" y="209.97" width="16.37" height="5.66" fill="#ef5d5e"/>
<rect x="141.67" y="209.97" width="5.79" height="5.66" fill="#f2625d"/>
<rect x="146.96" y="209.97" width="5.79" height="5.66" fill="#f56b5c"/>
<rect x="152.25" y="209.97" width="16.37" height="5.66" fill="#f7705c"/>
<rect x="168.12" y="209.97" width="5.79" height="5.66" fill="#f9795d"/>
<rect x="173.41" y="209.97" width="5.79" height="5.66" fill="#fd9668"/>
<rect x="178.70" y="209.97" width="11.08" height="5.66" fill="#fe9f6d"/>
<rect x="189.28" y="209.97" width="5.79" height="5.66" fill="#fea973"/>
<rect x="194.57" y="209.97" width="5.79" height="5.66" fill="#feb77e"/>
<rect x="199.86" y="209.97" width="5.79" height="5.66" fill="#fec68a"/>
<rect x="205.15" y="209.97" width="5.79" height="5.66" fill="#feca8d"/>
<rect x="210.45" y="209.97" width="5.79" height="5.66" fill="#fecf92"/>
<rect x="215.74" y="209.97" width="5.79" height="5.66" fill="#fcfdbf"/>
<rect x="221.03" y="209.97" width="5.79" height="5.66" fill="#feca8d"/>
<rect x="226.32" y="209.97" width="5.79" height="5.66" fill="#fed395"/>
<rect x="231.61" y="209.97" width="5.79" height="5.66" fill="#feae77"/>
<rect x="236.90" y="209.97" width="5.79" height="5.66" fill="#fc8961"/>
<rect x="242.19" y="209.97" width="5.79" height="5.66" fill="#ed5a5f"/>
<rect x="247.48" y="209.97" width="5.79" height="5.66" fill="#c73d73"/>
<rect x="252.77" y="209.97" width="5.79" height="5.66" fill="#992d80"/>
<rect x="258.06" y="209.97" width="5.79" height="5.66" fill="#6b1d81"/>
<rect x="263.35" y="209.97" width="5.79" height="5.66" fill="#36106b"/>
<rect x="268.64" y="209.97" width="5.79" height="5.66" fill="#0e0b2b"/>
<rect x="273.93" y="209.97" width="5.79" height="5.66" fill="#02020b"/>
<rect x="279.22" y="209.97" width="11.08" height="5.66" fill="#000004"/>
<rect x="125.80" y="215.13" width="16.37" height="5.66" fill="#ef5d5e"/>
<rect x="141.67" y="215.13" width="5.79" height="5.66" fill="#f4675c"/>
<rect x="146.96" y="215.13" width="5.79" height="5.66" fill="#f7705c"/>
<rect x="152.25" y="215.13" width="16.37" height="5.66" fill="#f9795d"/>
<rect x="168.12" y="215.13" width="5.79" height="5.66" fill="#fb835f"/>
<rect x="173.41" y="215.13" width="5.79" height="5.66" fill="#fd9b6b"/>
<rect x="178.70" y="215.13" width="5.79" height="5.66" fill="#fea973"/>
<rect x="183.99" y="215.13" width="5.79" height="5.66" fill="#feb77e"/>
<rect x="189.28" y="215.13" width="11.08" height="5.66" fill="#fec185"/>
<rect x="199.86" y="215.13" width="5.79" height="5.66" fill="#fec68a"/>
<rect x="205.15" y="215.13" width="5.79" height="5.66" fill="#feca8d"/>
<rect x="210.45" y="215.13" width="5.79" height="5.66" fill="#fed395"/>
<rect x="215.74" y="215.13" width="5.79" height="5.66" fill="#fcfdbf"/>
<rect x="221.03" y="215.13" width="5.79" height="5.66" fill="#fec68a"/>
<rect x="226.32" y="215.13" width="5.79" height="5.66" fill="#feb47b"/>
<rect x="231.61" y="215.13" width="5.79" height="5.66" fill="#fd9266"/>
<rect x="236.90" y="215.13" width="5.79" height="5.66" fill="#f56b5c"/>
<rect x="242.19" y="215.13" width="5.79" height="5.66" fill="#de4968"/>
<rect x="247.48" y="215.13" width="5.79" height="5.66" fill="#b73779"/>
<rect x="252.77" y="215.13" width="5.79" height="5.66" fill="#8c2981"/>
<rect x="258.06" y="215.13" width="5.79" height="5.66" fill="#601880"/>
<rect x="263.35" y="215.13" width="5.79" height="5.66" fill="#2d1161"/>
<rect x="268.64" y="215.13" width="5.79" height="5.66" fill="#0b0924"/>
<rect x="273.93" y="215.13" width="5.79" height="5.66" fill="#010106"/>
<rect x="279.22" y="215.13" width="11.08" height="5.66" fill="#000004"/>
<rect x="125.80" y="220.29" width="5.79" height="5.66" fill="#f4675c"/>
<rect x="131.09" y="220.29" width="5.79" height="5.66" fill="#f56b5c"/>
<rect x="136.38" y="220.29" width="5.79" height="5.66" fill="#f8745c"/>
<rect x="141.67" y="220.29" width="11.08" height="5.66" fill="#f9795d"/>
<rect x="152.25" y="220.29" width="5.79" height="5.66" fill="#fa7d5e"/>
<rect x="157.54" y="220.29" width="5.79" height="5.66" fill="#fc8961"/>
<rect x="162.83" y="220.29" width="11.08" height="5.66" fill="#fc8c63"/>
<rect x="173.41" y="220.29" width="5.79" height="5.66" fill="#fea571"/>
<rect x="178.70" y="220.29" width="5.79" height="5.66" fill="#feb47b"/>
<rect x="183.99" y="220.29" width="5.79" height="5.66" fill="#febd82"/>
<rect x="189.28" y="220.29" width="5.79" height="5.66" fill="#feca8d"/>
<rect x="194.57" y="220.29" width="11.08" height="5.66" fill="#fecf92"/>
<rect x="205.15" y="220.29" width="5.79" height="5.66" fill="#fed395"/>
<rect x="210.45" y="220.29" width="5.79" height="5.66" fill="#fcfdbf"/>
<rect x="215.74" y="220.29" width="5.79" height="5.66" fill="#fec185"/>
<rect x="221.03" y="220.29" width="5.79" height="5.66" fill="#fea973"/>
<rect x="226.32" y="220.29" width="5.79" height="5.66" fill="#fc8c63"/>
<rect x="231.61" y="220.29" width="5.79" height="5.66" fill="#f4675c"/>
<rect x="236.90" y="220.29" width="5.79" height="5.66" fill="#de4968"/>
<rect x="242.19" y="220.29" width="5.79" height="5.66" fill="#bf3a77"/>
<rect x="247.48" y="220.29" width="5.79" height="5.66" fill="#992d80"/>
<rect x="252.77" y="220.29" width="5.79" height="5.66" fill="#782281"/>
<rect x="258.06" y="220.29" width="5.79" height="5.66" fill="#51127c"/>
<rect x="263.35" y="220.29" width="5.79" height="5.66" fill="#21114e"/>
<rect x="268.64" y="220.29" width="5.79" height="5.66" fill="#06051a"/>
<rect x="273.93" y="220.29" width="5.79" height="5.66" fill="#010106"/>
<rect x="279.22" y="220.29" width="11.08" height="5.66" fill="#000004"/>
<rect x="125.80" y="225.46" width="11.08" height="5.66" fill="#f7705c"/>
<rect x="136.38" y="225.46" width="5.79" height="5.66" fill="#f9795d"/>
<rect x="141.67" y="225.46" width="5.79" height="5.66" fill="#fb835f"/>
<rect x="146.96" y="225.46" width="11.08" height="5.66" fill="#fc8961"/>
<rect x="157.54" y="225.46" width="5.79" height="5.66" fill="#fc8c63"/>
<rect x="162.83" y="225.46" width="5.79" height="5.66" fill="#fd9266"/>
<rect x="168.12" y="225.46" width="5.79" height="5.66" fill="#fd9668"/>
<rect x="173.41" y="225.46" width="5.79" height="5.66" fill="#feae77"/>
<rect x="178.70" y="225.46" width="5.79" height="5.66" fill="#fec185"/>
<rect x="183.99" y="225.46" width="5.79" height="5.66" fill="#fecf92"/>
<rect x="189.28" y="225.46" width="5.79" height="5.66" fill="#feca8d"/>
<rect x="194.57" y="225.46" width="5.79" height="5.66" fill="#fec68a"/>
<rect x="199.86" y="225.46" width="11.08" height="5.66" fill="#fec185"/>
<rect x="210.45" y="225.46" width="5.79" height="5.66" fill="#feb47b"/>
<rect x="215.74" y="225.46" width="5.79" height="5.66" fill="#fd9668"/>
<rect x="221.03" y="225.46" width="5.79" height="5.66" fill="#fb835f"/>
<rect x="226.32" y="225.46" width="5.79" height="5.66" fill="#f4675c"/>
<rect x="231.61" y="225.46" width="5.79" height="5.66" fill="#de4968"/>
<rect x="236.90" y="225.46" width="5.79" height="5.66" fill="#bf3a77"/>
<rect x="242.19" y="225.46" width="5.79" height="5.66" fill="#a1307e"/>
<rect x="247.48" y="225.46" width="5.79" height="5.66" fill="#802582"/>
<rect x="252.77" y="225.46" width="5.79" height="5.66" fill="#601880"/>
<rect x="258.06" y="225.46" width="5.79" height="5.66" fill="#3b0f70"/>
<rect x="263.35" y="225.46" width="5.79" height="5.66" fill="#140e36"/>
<rect x="268.64" y="225.46" width="5.79" height="5.66" fill="#03030f"/>
<rect x="273.93" y="225.46" width="16.37" height="5.66" fill="#000004"/>
<rect x="125.80" y="230.62" width="11.08" height="5.66" fill="#fb835f"/>
<rect x="136.38" y="230.62" width="5.79" height="5.66" fill="#fc8961"/>
<rect x="141.67" y="230.62" width="5.79" height="5.66" fill="#fd9266"/>
<rect x="146.96" y="230.62" width="21.66" height="5.66" fill="#fd9668"/>
<rect x="168.12" y="230.62" width="5.79" height="5.66" fill="#fd9b6b"/>
<rect x="173.41" y="230.62" width="5.79" height="5.66" fill="#fea571"/>
<rect x="178.70" y="230.62" width="5.79" height="5.66" fill="#fcfdbf"/>
<rect x="183.99" y="230.62" width="5.79" height="5.66" fill="#feb77e"/>
<rect x="189.28" y="230.62" width="5.79" height="5.66" fill="#fcfdbf"/>
<rect x="194.57" y="230.62" width="11.08" height="5.66" fill="#feb47b"/>
<rect x="205.15" y="230.62" width="5.79" height="5.66" fill="#fea973"/>
<rect x="210.45" y="230.62" width="5.79" height="5.66" fill="#fd9b6b"/>
<rect x="215.74" y="230.62" width="5.79" height="5.66" fill="#fc8961"/>
<rect x="221.03" y="230.62" width="5.79" height="5.66" fill="#f7705c"/>
<rect x="226.32" y="230.62" width="5.79" height="5.66" fill="#e85362"/>
<rect x="231.61" y="230.62" width="5.79" height="5.66" fill="#ca3e72"/>
<rect x="236.90" y="230.62" width="5.79" height="5.66" fill="#aa337d"/>
<rect x="242.19" y="230.62" width="5.79" height="5.66" fill="#8c2981"/>
<rect x="247.48" y="230.62" width="5.79" height="5.66" fill="#6b1d81"/>
<rect x="252.77" y="230.62" width="5.79" height="5.66" fill="#4c117a"/>
<rect x="258.06" y="230.62" width="5.79" height="5.66" fill="#21114e"/>
<rect x="263.35" y="230.62" width="5.79" height="5.66" fill="#090720"/>
<rect x="268.64" y="230.62" width="5.79" height="5.66" fill="#010106"/>
<rect x="273.93" y="230.62" width="16.37" height="5.66" fill="#000004"/>
<rect x="125.80" y="235.78" width="11.08" height="5.66" fill="#fc8961"/>
<rect x="136.38" y="235.78" width="5.79" height="5.66" fill="#fc8c63"/>
<rect x="141.67" y="235.78" width="5.79" height="5.66" fill="#fd9b6b"/>
<rect x="146.96" y="235.78" width="26.95" height="5.66" fill="#fe9f6d"/>
<rect x="173.41" y="235.78" width="5.79" height="5.66" fill="#fea571"/>
<rect x="178.70" y="235.78" width="5.79" height="5.66" fill="#feae77"/>
<rect x="183.99" y="235.78" width="16.37" height="5.66" fill="#feb47b"/>
<rect x="199.86" y="235.78" width="5.79" height="5.66" fill="#feae77"/>
<rect x="205.15" y="235.78" width="5.79" height="5.66" fill="#fea571"/>
<rect x="210.45" y="235.78" width="5.79" height="5.66" fill="#fd9266"/>
<rect x="215.74" y="235.78" width="5.79" height="5.66" fill="#f9795d"/>
<rect x="221.03" y="235.78" width="5.79" height="5.66" fill="#ef5d5e"/>
<rect x="226.32" y="235.78" width="5.79" height="5.66" fill="#d6456c"/>
<rect x="231.61" y="235.78" width="5.79" height="5.66" fill="#b73779"/>
<rect x="236.90" y="235.78" width="5.79" height="5.66" fill="#992d80"/>
<rect x="242.19" y="235.78" width="5.79" height="5.66" fill="#7c2382"/>
<rect x="247.48" y="235.78" width="5.79" height="5.66" fill="#5c167f"/>
<rect x="252.77" y="235.78" width="5.79" height="5.66" fill="#3b0f70"/>
<rect x="258.06" y="235.78" width="5.79" height="5.66" fill="#180f3d"/>
<rect x="263.35" y="235.78" width="5.79" height="5.66" fill="#050416"/>
<rect x="268.64" y="235.78" width="5.79" height="5.66" fill="#010106"/>
<rect x="273.93" y="235.78" width="16.37" height="5.66" fill="#000004"/>
<rect x="125.80" y="240.95" width="11.08" height="5.66" fill="#fc8c63"/>
<rect x="136.38" y="240.95" width="5.79" height="5.66" fill="#fd9266"/>
<rect x="141.67" y="240.95" width="5.79" height="5.66" fill="#fd9b6b"/>
<rect x="146.96" y="240.95" width="21.66" height="5.66" fill="#fe9f6d"/>
<rect x="168.12" y="240.95" width="5.79" height="5.66" fill="#fea571"/>
<rect x="173.41" y="240.95" width="5.79" height="5.66" fill="#feb47b"/>
<rect x="178.70" y="240.95" width="5.79" height="5.66" fill="#fec185"/>
<rect x="183.99" y="240.95" width="5.79" height="5.66" fill="#febd82"/>
<rect x="189.28" y="240.95" width="11.08" height="5.66" fill="#feb77e"/>
<rect x="199.86" y="240.95" width="5.79" height="5.66" fill="#feae77"/>
<rect x="205.15" y="240.95" width="5.79" height="5.66" fill="#fe9f6d"/>
<rect x="210.45" y="240.95" width="5.79" height="5.66" fill="#fc8c63"/>
<rect x="215.74" y="240.95" width="5.79" height="5.66" fill="#f7705c"/>
<rect x="221.03" y="240.95" width="5.79" height="5.66" fill="#e85362"/>
<rect x="226.32" y="240.95" width="5.79" height="5.66" fill="#cf4070"/>
<rect x="231.61" y="240.95" width="5.79" height="5.66" fill="#ad347c"/>
<rect x="236.90" y="240.95" width="5.79" height="5.66" fill="#902a81"/>
<rect x="242.19" y="240.95" width="5.79" height="5.66" fill="#701f81"/>
<rect x="247.48" y="240.95" width="5.79" height="5.66" fill="#51127c"/>
<rect x="252.77" y="240.95" width="5.79" height="5.66" fill="#29115a"/>
<rect x="258.06" y="240.95" width="5.79" height="5.66" fill="#0e0b2b"/>
<rect x="263.35" y="240.95" width="5.79" height="5.66" fill="#03030f"/>
<rect x="268.64" y="240.95" width="21.66" height="5.66" fill="#000004"/>
<rect x="125.80" y="246.11" width="5.79" height="15.99" fill="#fb835f"/>
<rect x="131.09" y="246.11" width="5.79" height="15.99" fill="#fc8961"/>
<rect x="136.38" y="246.11" width="5.79" height="15.99" fill="#fd9266"/>
<rect x="141.67" y="246.11" width="5.79" height="15.99" fill="#fd9668"/>
<rect x="146.96" y="246.11" width="5.79" height="15.99" fill="#fd9b6b"/>
<rect x="152.25" y="246.11" width="16.37" height="15.99" fill="#fe9f6d"/>
<rect x="168.12" y="246.11" width="5.79" height="15.99" fill="#fea571"/>
<rect x="173.41" y="246.11" width="5.79" height="15.99" fill="#feb47b"/>
<rect x="178.70" y="246.11" width="11.08" height="15.99" fill="#fec185"/>
<rect x="189.28" y="246.11" width="5.79" height="15.99" fill="#febd82"/>
<rect x="194.57" y="246.11" width="5.79" height="15.99" fill="#feb77e"/>
<rect x="199.86" y="246.11" width="5.79" height="15.99" fill="#feae77"/>
<rect x="205.15" y="246.11" width="5.79" height="15.99" fill="#fe9f6d"/>
<rect x="210.45" y="246.11" width="5.79" height="15.99" fill="#fc8c63"/>
<rect x="215.74" y="246.11" width="5.79" height="15.99" fill="#f7705c"/>
<rect x="221.03" y="246.11" width="5.79" height="15.99" fill="#e44f64"/>
<rect x="226.32" y="246.11" width="5.79" height="15.99" fill="#cf4070"/>
<rect x="231.61" y="246.11" width="5.79" height="15.99" fill="#ad347c"/>
<rect x="236.90" y="246.11" width="5.79" height="15.99" fill="#902a81"/>
<rect x="242.19" y="246.11" width="5.79" height="15.99" fill="#752181"/>
<rect x="247.48" y="246.11" width="5.79" height="15.99" fill="#51127c"/>
<rect x="252.77" y="246.11" width="5.79" height="15.99" fill="#29115a"/>
<rect x="258.06" y="246.11" width="5.79" height="15.99" fill="#0e0b2b"/>
<rect x="263.35" y="246.11" width="5.79" height="15.99" fill="#02020b"/>
<rect x="268.64" y="246.11" width="21.66" height="15.99" fill="#000004"/>
</g>
<line x1="125.8" y1="179.29" x2="289.8" y2="179.29" stroke="#a4a4a4" stroke-width="1.05"/>
<line x1="125.8" y1="246.41" x2="289.8" y2="246.41" stroke="#a4a4a4" stroke-width="1.05"/>
<rect x="125.8" y="163.5" width="164.00" height="98.10" fill="none" stroke="#262626" stroke-width="1.25"/>
<line x1="128.45" y1="261.6" x2="128.45" y2="267.6" stroke="#262626" stroke-width="1.25"/>
<text x="132.25" y="278.9" font-size="10.2" text-anchor="middle" textLength="22.3" lengthAdjust="spacingAndGlyphs">0.01</text>
<line x1="181.35" y1="261.6" x2="181.35" y2="267.6" stroke="#262626" stroke-width="1.25"/>
<text x="181.35" y="278.9" font-size="10.2" text-anchor="middle" textLength="15.9" lengthAdjust="spacingAndGlyphs">0.1</text>
<line x1="234.25" y1="261.6" x2="234.25" y2="267.6" stroke="#262626" stroke-width="1.25"/>
<text x="234.25" y="278.9" font-size="10.2" text-anchor="middle" textLength="15.9" lengthAdjust="spacingAndGlyphs">1.0</text>
<line x1="287.15" y1="261.6" x2="287.15" y2="267.6" stroke="#262626" stroke-width="1.25"/>
<text x="287.15" y="278.9" font-size="10.2" text-anchor="middle" textLength="12.7" lengthAdjust="spacingAndGlyphs">10</text>
<text x="208.0" y="292.4" font-size="13" text-anchor="middle" font-style="italic">δ</text>
<line x1="289.8" y1="171.24" x2="293.5" y2="171.24" stroke="#262626" stroke-width="1.2"/>
<line x1="289.8" y1="181.57" x2="293.5" y2="181.57" stroke="#262626" stroke-width="1.2"/>
<line x1="289.8" y1="197.06" x2="293.5" y2="197.06" stroke="#262626" stroke-width="1.2"/>
<line x1="289.8" y1="212.55" x2="293.5" y2="212.55" stroke="#262626" stroke-width="1.2"/>
<line x1="289.8" y1="228.04" x2="293.5" y2="228.04" stroke="#262626" stroke-width="1.2"/>
<line x1="289.8" y1="243.53" x2="293.5" y2="243.53" stroke="#262626" stroke-width="1.2"/>
<line x1="289.8" y1="253.86" x2="293.5" y2="253.86" stroke="#262626" stroke-width="1.2"/>
<text x="207.8" y="159.6" font-size="12.2" text-anchor="middle" textLength="43" lengthAdjust="spacingAndGlyphs">English</text>
<text x="289.0" y="161.9" font-size="16.4" text-anchor="end" fill="#000">d</text>
<g shape-rendering="crispEdges">
<rect x="301.20" y="163.50" width="74.56" height="15.99" fill="#000004"/>
<rect x="375.26" y="163.50" width="5.79" height="15.99" fill="#03030f"/>
<rect x="380.55" y="163.50" width="5.79" height="15.99" fill="#140e36"/>
<rect x="385.85" y="163.50" width="5.79" height="15.99" fill="#2d1161"/>
<rect x="391.14" y="163.50" width="5.79" height="15.99" fill="#4c117a"/>
<rect x="396.43" y="163.50" width="5.79" height="15.99" fill="#8c2981"/>
<rect x="401.72" y="163.50" width="5.79" height="15.99" fill="#e44f64"/>
<rect x="407.01" y="163.50" width="5.79" height="15.99" fill="#fd9668"/>
<rect x="412.30" y="163.50" width="5.79" height="15.99" fill="#8c2981"/>
<rect x="417.59" y="163.50" width="48.11" height="15.99" fill="#000004"/>
<rect x="301.20" y="178.99" width="5.79" height="5.66" fill="#03030f"/>
<rect x="306.49" y="178.99" width="5.79" height="5.66" fill="#050416"/>
<rect x="311.78" y="178.99" width="5.79" height="5.66" fill="#06051a"/>
<rect x="317.07" y="178.99" width="5.79" height="5.66" fill="#090720"/>
<rect x="322.36" y="178.99" width="5.79" height="5.66" fill="#0e0b2b"/>
<rect x="327.65" y="178.99" width="5.79" height="5.66" fill="#140e36"/>
<rect x="332.94" y="178.99" width="5.79" height="5.66" fill="#1a1042"/>
<rect x="338.23" y="178.99" width="5.79" height="5.66" fill="#21114e"/>
<rect x="343.52" y="178.99" width="5.79" height="5.66" fill="#3b0f70"/>
<rect x="348.81" y="178.99" width="5.79" height="5.66" fill="#51127c"/>
<rect x="354.10" y="178.99" width="5.79" height="5.66" fill="#5c167f"/>
<rect x="359.39" y="178.99" width="5.79" height="5.66" fill="#641a80"/>
<rect x="364.68" y="178.99" width="5.79" height="5.66" fill="#6b1d81"/>
<rect x="369.97" y="178.99" width="5.79" height="5.66" fill="#782281"/>
<rect x="375.26" y="178.99" width="5.79" height="5.66" fill="#942c80"/>
<rect x="380.55" y="178.99" width="5.79" height="5.66" fill="#a1307e"/>
<rect x="385.85" y="178.99" width="5.79" height="5.66" fill="#ad347c"/>
<rect x="391.14" y="178.99" width="5.79" height="5.66" fill="#bf3a77"/>
<rect x="396.43" y="178.99" width="5.79" height="5.66" fill="#d6456c"/>
<rect x="401.72" y="178.99" width="5.79" height="5.66" fill="#e44f64"/>
<rect x="407.01" y="178.99" width="5.79" height="5.66" fill="#de4968"/>
<rect x="412.30" y="178.99" width="5.79" height="5.66" fill="#d2426f"/>
<rect x="417.59" y="178.99" width="5.79" height="5.66" fill="#bf3a77"/>
<rect x="422.88" y="178.99" width="5.79" height="5.66" fill="#782281"/>
<rect x="428.17" y="178.99" width="37.53" height="5.66" fill="#000004"/>
<rect x="301.20" y="184.15" width="42.82" height="5.66" fill="#000004"/>
<rect x="343.52" y="184.15" width="5.79" height="5.66" fill="#02020b"/>
<rect x="348.81" y="184.15" width="5.79" height="5.66" fill="#0b0924"/>
<rect x="354.10" y="184.15" width="5.79" height="5.66" fill="#140e36"/>
<rect x="359.39" y="184.15" width="5.79" height="5.66" fill="#1e1149"/>
<rect x="364.68" y="184.15" width="5.79" height="5.66" fill="#2d1161"/>
<rect x="369.97" y="184.15" width="5.79" height="5.66" fill="#3b0f70"/>
<rect x="375.26" y="184.15" width="5.79" height="5.66" fill="#51127c"/>
<rect x="380.55" y="184.15" width="5.79" height="5.66" fill="#641a80"/>
<rect x="385.85" y="184.15" width="5.79" height="5.66" fill="#a1307e"/>
<rect x="391.14" y="184.15" width="5.79" height="5.66" fill="#b73779"/>
<rect x="396.43" y="184.15" width="5.79" height="5.66" fill="#d6456c"/>
<rect x="401.72" y="184.15" width="5.79" height="5.66" fill="#ef5d5e"/>
<rect x="407.01" y="184.15" width="5.79" height="5.66" fill="#fe9f6d"/>
<rect x="412.30" y="184.15" width="5.79" height="5.66" fill="#fd9668"/>
<rect x="417.59" y="184.15" width="5.79" height="5.66" fill="#a1307e"/>
<rect x="422.88" y="184.15" width="42.82" height="5.66" fill="#000004"/>
<rect x="301.20" y="189.32" width="53.40" height="5.66" fill="#000004"/>
<rect x="354.10" y="189.32" width="5.79" height="5.66" fill="#02020b"/>
<rect x="359.39" y="189.32" width="5.79" height="5.66" fill="#090720"/>
<rect x="364.68" y="189.32" width="5.79" height="5.66" fill="#0e0b2b"/>
<rect x="369.97" y="189.32" width="5.79" height="5.66" fill="#1e1149"/>
<rect x="375.26" y="189.32" width="5.79" height="5.66" fill="#3b0f70"/>
<rect x="380.55" y="189.32" width="5.79" height="5.66" fill="#54137d"/>
<rect x="385.85" y="189.32" width="5.79" height="5.66" fill="#842681"/>
<rect x="391.14" y="189.32" width="5.79" height="5.66" fill="#ad347c"/>
<rect x="396.43" y="189.32" width="5.79" height="5.66" fill="#ca3e72"/>
<rect x="401.72" y="189.32" width="5.79" height="5.66" fill="#ed5a5f"/>
<rect x="407.01" y="189.32" width="5.79" height="5.66" fill="#fcf0b2"/>
<rect x="412.30" y="189.32" width="5.79" height="5.66" fill="#ef5d5e"/>
<rect x="417.59" y="189.32" width="5.79" height="5.66" fill="#440f76"/>
<rect x="422.88" y="189.32" width="42.82" height="5.66" fill="#000004"/>
<rect x="301.20" y="194.48" width="63.98" height="5.66" fill="#000004"/>
<rect x="364.68" y="194.48" width="5.79" height="5.66" fill="#03030f"/>
<rect x="369.97" y="194.48" width="5.79" height="5.66" fill="#0e0b2b"/>
<rect x="375.26" y="194.48" width="5.79" height="5.66" fill="#251255"/>
<rect x="380.55" y="194.48" width="5.79" height="5.66" fill="#440f76"/>
<rect x="385.85" y="194.48" width="5.79" height="5.66" fill="#641a80"/>
<rect x="391.14" y="194.48" width="5.79" height="5.66" fill="#8c2981"/>
<rect x="396.43" y="194.48" width="5.79" height="5.66" fill="#b73779"/>
<rect x="401.72" y="194.48" width="5.79" height="5.66" fill="#ed5a5f"/>
<rect x="407.01" y="194.48" width="5.79" height="5.66" fill="#fe9f6d"/>
<rect x="412.30" y="194.48" width="5.79" height="5.66" fill="#b73779"/>
<rect x="417.59" y="194.48" width="48.11" height="5.66" fill="#000004"/>
<rect x="301.20" y="199.64" width="63.98" height="5.66" fill="#000004"/>
<rect x="364.68" y="199.64" width="5.79" height="5.66" fill="#02020b"/>
<rect x="369.97" y="199.64" width="5.79" height="5.66" fill="#06051a"/>
<rect x="375.26" y="199.64" width="5.79" height="5.66" fill="#1a1042"/>
<rect x="380.55" y="199.64" width="5.79" height="5.66" fill="#3b0f70"/>
<rect x="385.85" y="199.64" width="5.79" height="5.66" fill="#5c167f"/>
<rect x="391.14" y="199.64" width="5.79" height="5.66" fill="#8c2981"/>
<rect x="396.43" y="199.64" width="5.79" height="5.66" fill="#b73779"/>
<rect x="401.72" y="199.64" width="5.79" height="5.66" fill="#f4675c"/>
<rect x="407.01" y="199.64" width="5.79" height="5.66" fill="#f7705c"/>
<rect x="412.30" y="199.64" width="5.79" height="5.66" fill="#782281"/>
<rect x="417.59" y="199.64" width="48.11" height="5.66" fill="#000004"/>
<rect x="301.20" y="204.81" width="69.27" height="5.66" fill="#000004"/>
<rect x="369.97" y="204.81" width="5.79" height="5.66" fill="#050416"/>
<rect x="375.26" y="204.81" width="5.79" height="5.66" fill="#140e36"/>
<rect x="380.55" y="204.81" width="5.79" height="5.66" fill="#331067"/>
<rect x="385.85" y="204.81" width="5.79" height="5.66" fill="#59157e"/>
<rect x="391.14" y="204.81" width="5.79" height="5.66" fill="#8c2981"/>
<rect x="396.43" y="204.81" width="5.79" height="5.66" fill="#b73779"/>
<rect x="401.72" y="204.81" width="5.79" height="5.66" fill="#fd9668"/>
<rect x="407.01" y="204.81" width="5.79" height="5.66" fill="#e44f64"/>
<rect x="412.30" y="204.81" width="5.79" height="5.66" fill="#51127c"/>
<rect x="417.59" y="204.81" width="48.11" height="5.66" fill="#000004"/>
<rect x="301.20" y="209.97" width="63.98" height="5.66" fill="#000004"/>
<rect x="364.68" y="209.97" width="5.79" height="5.66" fill="#02020b"/>
<rect x="369.97" y="209.97" width="5.79" height="5.66" fill="#06051a"/>
<rect x="375.26" y="209.97" width="5.79" height="5.66" fill="#140e36"/>
<rect x="380.55" y="209.97" width="5.79" height="5.66" fill="#331067"/>
<rect x="385.85" y="209.97" width="5.79" height="5.66" fill="#51127c"/>
<rect x="391.14" y="209.97" width="5.79" height="5.66" fill="#842681"/>
<rect x="396.43" y="209.97" width="5.79" height="5.66" fill="#b73779"/>
<rect x="401.72" y="209.97" width="5.79" height="5.66" fill="#fc8961"/>
<rect x="407.01" y="209.97" width="5.79" height="5.66" fill="#de4968"/>
<rect x="412.30" y="209.97" width="5.79" height="5.66" fill="#440f76"/>
<rect x="417.59" y="209.97" width="48.11" height="5.66" fill="#000004"/>
<rect x="301.20" y="215.13" width="69.27" height="5.66" fill="#000004"/>
<rect x="369.97" y="215.13" width="5.79" height="5.66" fill="#06051a"/>
<rect x="375.26" y="215.13" width="5.79" height="5.66" fill="#140e36"/>
<rect x="380.55" y="215.13" width="5.79" height="5.66" fill="#251255"/>
<rect x="385.85" y="215.13" width="5.79" height="5.66" fill="#59157e"/>
<rect x="391.14" y="215.13" width="5.79" height="5.66" fill="#8c2981"/>
<rect x="396.43" y="215.13" width="5.79" height="5.66" fill="#b73779"/>
<rect x="401.72" y="215.13" width="5.79" height="5.66" fill="#e44f64"/>
<rect x="407.01" y="215.13" width="5.79" height="5.66" fill="#ad347c"/>
<rect x="412.30" y="215.13" width="5.79" height="5.66" fill="#140e36"/>
<rect x="417.59" y="215.13" width="48.11" height="5.66" fill="#000004"/>
<rect x="301.20" y="220.29" width="63.98" height="5.66" fill="#000004"/>
<rect x="364.68" y="220.29" width="5.79" height="5.66" fill="#02020b"/>
<rect x="369.97" y="220.29" width="5.79" height="5.66" fill="#050416"/>
<rect x="375.26" y="220.29" width="5.79" height="5.66" fill="#1a1042"/>
<rect x="380.55" y="220.29" width="5.79" height="5.66" fill="#3b0f70"/>
<rect x="385.85" y="220.29" width="5.79" height="5.66" fill="#641a80"/>
<rect x="391.14" y="220.29" width="5.79" height="5.66" fill="#942c80"/>
<rect x="396.43" y="220.29" width="5.79" height="5.66" fill="#ca3e72"/>
<rect x="401.72" y="220.29" width="5.79" height="5.66" fill="#f4675c"/>
<rect x="407.01" y="220.29" width="5.79" height="5.66" fill="#8c2981"/>
<rect x="412.30" y="220.29" width="5.79" height="5.66" fill="#03030f"/>
<rect x="417.59" y="220.29" width="48.11" height="5.66" fill="#000004"/>
<rect x="301.20" y="225.46" width="63.98" height="5.66" fill="#000004"/>
<rect x="364.68" y="225.46" width="5.79" height="5.66" fill="#02020b"/>
<rect x="369.97" y="225.46" width="5.79" height="5.66" fill="#06051a"/>
<rect x="375.26" y="225.46" width="5.79" height="5.66" fill="#1e1149"/>
<rect x="380.55" y="225.46" width="5.79" height="5.66" fill="#440f76"/>
<rect x="385.85" y="225.46" width="5.79" height="5.66" fill="#701f81"/>
<rect x="391.14" y="225.46" width="5.79" height="5.66" fill="#a1307e"/>
<rect x="396.43" y="225.46" width="5.79" height="5.66" fill="#d2426f"/>
<rect x="401.72" y="225.46" width="5.79" height="5.66" fill="#de4968"/>
<rect x="407.01" y="225.46" width="5.79" height="5.66" fill="#802582"/>
<rect x="412.30" y="225.46" width="53.40" height="5.66" fill="#000004"/>
<rect x="301.20" y="230.62" width="58.69" height="5.66" fill="#000004"/>
<rect x="359.39" y="230.62" width="5.79" height="5.66" fill="#03030f"/>
<rect x="364.68" y="230.62" width="5.79" height="5.66" fill="#090720"/>
<rect x="369.97" y="230.62" width="5.79" height="5.66" fill="#1e1149"/>
<rect x="375.26" y="230.62" width="5.79" height="5.66" fill="#440f76"/>
<rect x="380.55" y="230.62" width="5.79" height="5.66" fill="#6b1d81"/>
<rect x="385.85" y="230.62" width="5.79" height="5.66" fill="#942c80"/>
<rect x="391.14" y="230.62" width="5.79" height="5.66" fill="#bf3a77"/>
<rect x="396.43" y="230.62" width="5.79" height="5.66" fill="#e44f64"/>
<rect x="401.72" y="230.62" width="5.79" height="5.66" fill="#de4968"/>
<rect x="407.01" y="230.62" width="5.79" height="5.66" fill="#782281"/>
<rect x="412.30" y="230.62" width="5.79" height="5.66" fill="#06051a"/>
<rect x="417.59" y="230.62" width="48.11" height="5.66" fill="#000004"/>
<rect x="301.20" y="235.78" width="53.40" height="5.66" fill="#000004"/>
<rect x="354.10" y="235.78" width="5.79" height="5.66" fill="#02020b"/>
<rect x="359.39" y="235.78" width="5.79" height="5.66" fill="#090720"/>
<rect x="364.68" y="235.78" width="5.79" height="5.66" fill="#140e36"/>
<rect x="369.97" y="235.78" width="5.79" height="5.66" fill="#251255"/>
<rect x="375.26" y="235.78" width="5.79" height="5.66" fill="#51127c"/>
<rect x="380.55" y="235.78" width="5.79" height="5.66" fill="#782281"/>
<rect x="385.85" y="235.78" width="5.79" height="5.66" fill="#aa337d"/>
<rect x="391.14" y="235.78" width="5.79" height="5.66" fill="#ca3e72"/>
<rect x="396.43" y="235.78" width="5.79" height="5.66" fill="#e85362"/>
<rect x="401.72" y="235.78" width="5.79" height="5.66" fill="#e44f64"/>
<rect x="407.01" y="235.78" width="5.79" height="5.66" fill="#802582"/>
<rect x="412.30" y="235.78" width="5.79" height="5.66" fill="#140e36"/>
<rect x="417.59" y="235.78" width="48.11" height="5.66" fill="#000004"/>
<rect x="301.20" y="240.95" width="53.40" height="5.66" fill="#000004"/>
<rect x="354.10" y="240.95" width="5.79" height="5.66" fill="#02020b"/>
<rect x="359.39" y="240.95" width="5.79" height="5.66" fill="#090720"/>
<rect x="364.68" y="240.95" width="5.79" height="5.66" fill="#140e36"/>
<rect x="369.97" y="240.95" width="5.79" height="5.66" fill="#251255"/>
<rect x="375.26" y="240.95" width="5.79" height="5.66" fill="#59157e"/>
<rect x="380.55" y="240.95" width="5.79" height="5.66" fill="#802582"/>
<rect x="385.85" y="240.95" width="5.79" height="5.66" fill="#ad347c"/>
<rect x="391.14" y="240.95" width="5.79" height="5.66" fill="#ca3e72"/>
<rect x="396.43" y="240.95" width="5.79" height="5.66" fill="#e85362"/>
<rect x="401.72" y="240.95" width="5.79" height="5.66" fill="#e44f64"/>
<rect x="407.01" y="240.95" width="5.79" height="5.66" fill="#8c2981"/>
<rect x="412.30" y="240.95" width="5.79" height="5.66" fill="#251255"/>
<rect x="417.59" y="240.95" width="48.11" height="5.66" fill="#000004"/>
<rect x="301.20" y="246.11" width="53.40" height="15.99" fill="#000004"/>
<rect x="354.10" y="246.11" width="5.79" height="15.99" fill="#02020b"/>
<rect x="359.39" y="246.11" width="5.79" height="15.99" fill="#090720"/>
<rect x="364.68" y="246.11" width="5.79" height="15.99" fill="#140e36"/>
<rect x="369.97" y="246.11" width="5.79" height="15.99" fill="#251255"/>
<rect x="375.26" y="246.11" width="5.79" height="15.99" fill="#51127c"/>
<rect x="380.55" y="246.11" width="5.79" height="15.99" fill="#802582"/>
<rect x="385.85" y="246.11" width="5.79" height="15.99" fill="#ad347c"/>
<rect x="391.14" y="246.11" width="5.79" height="15.99" fill="#ca3e72"/>
<rect x="396.43" y="246.11" width="5.79" height="15.99" fill="#e85362"/>
<rect x="401.72" y="246.11" width="5.79" height="15.99" fill="#e44f64"/>
<rect x="407.01" y="246.11" width="5.79" height="15.99" fill="#8c2981"/>
<rect x="412.30" y="246.11" width="5.79" height="15.99" fill="#2d1161"/>
<rect x="417.59" y="246.11" width="48.11" height="15.99" fill="#000004"/>
</g>
<line x1="301.2" y1="179.29" x2="465.2" y2="179.29" stroke="#a4a4a4" stroke-width="1.05"/>
<line x1="301.2" y1="246.41" x2="465.2" y2="246.41" stroke="#a4a4a4" stroke-width="1.05"/>
<rect x="301.2" y="163.5" width="164.00" height="98.10" fill="none" stroke="#262626" stroke-width="1.25"/>
<line x1="303.85" y1="261.6" x2="303.85" y2="267.6" stroke="#262626" stroke-width="1.25"/>
<text x="307.65" y="278.9" font-size="10.2" text-anchor="middle" textLength="22.3" lengthAdjust="spacingAndGlyphs">0.01</text>
<line x1="356.75" y1="261.6" x2="356.75" y2="267.6" stroke="#262626" stroke-width="1.25"/>
<text x="356.75" y="278.9" font-size="10.2" text-anchor="middle" textLength="15.9" lengthAdjust="spacingAndGlyphs">0.1</text>
<line x1="409.65" y1="261.6" x2="409.65" y2="267.6" stroke="#262626" stroke-width="1.25"/>
<text x="409.65" y="278.9" font-size="10.2" text-anchor="middle" textLength="15.9" lengthAdjust="spacingAndGlyphs">1.0</text>
<line x1="462.55" y1="261.6" x2="462.55" y2="267.6" stroke="#262626" stroke-width="1.25"/>
<text x="462.55" y="278.9" font-size="10.2" text-anchor="middle" textLength="12.7" lengthAdjust="spacingAndGlyphs">10</text>
<text x="383.4" y="292.4" font-size="13" text-anchor="middle" font-style="italic">δ</text>
<line x1="465.2" y1="171.24" x2="468.9" y2="171.24" stroke="#262626" stroke-width="1.2"/>
<line x1="465.2" y1="181.57" x2="468.9" y2="181.57" stroke="#262626" stroke-width="1.2"/>
<line x1="465.2" y1="197.06" x2="468.9" y2="197.06" stroke="#262626" stroke-width="1.2"/>
<line x1="465.2" y1="212.55" x2="468.9" y2="212.55" stroke="#262626" stroke-width="1.2"/>
<line x1="465.2" y1="228.04" x2="468.9" y2="228.04" stroke="#262626" stroke-width="1.2"/>
<line x1="465.2" y1="243.53" x2="468.9" y2="243.53" stroke="#262626" stroke-width="1.2"/>
<line x1="465.2" y1="253.86" x2="468.9" y2="253.86" stroke="#262626" stroke-width="1.2"/>
<text x="383.2" y="159.6" font-size="12.2" text-anchor="middle" textLength="36.5" lengthAdjust="spacingAndGlyphs">Italian</text>
<text x="464.7" y="160.1" font-size="16.4" text-anchor="end" fill="#000">e</text>
<g shape-rendering="crispEdges">
<rect x="476.60" y="163.50" width="95.67" height="15.99" fill="#000004"/>
<rect x="571.77" y="163.50" width="5.79" height="15.99" fill="#3b0f70"/>
<rect x="577.05" y="163.50" width="5.79" height="15.99" fill="#fcfdbf"/>
<rect x="582.34" y="163.50" width="5.79" height="15.99" fill="#fd9668"/>
<rect x="587.63" y="163.50" width="5.79" height="15.99" fill="#ca3e72"/>
<rect x="592.92" y="163.50" width="5.79" height="15.99" fill="#59157e"/>
<rect x="598.20" y="163.50" width="5.79" height="15.99" fill="#140e36"/>
<rect x="603.49" y="163.50" width="5.79" height="15.99" fill="#02020b"/>
<rect x="608.78" y="163.50" width="32.22" height="15.99" fill="#000004"/>
<rect x="476.60" y="178.99" width="95.67" height="5.66" fill="#000004"/>
<rect x="571.77" y="178.99" width="5.79" height="5.66" fill="#0e0b2b"/>
<rect x="577.05" y="178.99" width="5.79" height="5.66" fill="#942c80"/>
<rect x="582.34" y="178.99" width="5.79" height="5.66" fill="#f7705c"/>
<rect x="587.63" y="178.99" width="5.79" height="5.66" fill="#fc8961"/>
<rect x="592.92" y="178.99" width="5.79" height="5.66" fill="#ed5a5f"/>
<rect x="598.20" y="178.99" width="5.79" height="5.66" fill="#b73779"/>
<rect x="603.49" y="178.99" width="5.79" height="5.66" fill="#701f81"/>
<rect x="608.78" y="178.99" width="5.79" height="5.66" fill="#59157e"/>
<rect x="614.06" y="178.99" width="5.79" height="5.66" fill="#440f76"/>
<rect x="619.35" y="178.99" width="5.79" height="5.66" fill="#251255"/>
<rect x="624.64" y="178.99" width="5.79" height="5.66" fill="#140e36"/>
<rect x="629.93" y="178.99" width="5.79" height="5.66" fill="#06051a"/>
<rect x="635.21" y="178.99" width="5.79" height="5.66" fill="#03030f"/>
<rect x="476.60" y="184.15" width="95.67" height="5.66" fill="#000004"/>
<rect x="571.77" y="184.15" width="5.79" height="5.66" fill="#06051a"/>
<rect x="577.05" y="184.15" width="5.79" height="5.66" fill="#b73779"/>
<rect x="582.34" y="184.15" width="11.07" height="5.66" fill="#fd9266"/>
<rect x="592.92" y="184.15" width="5.79" height="5.66" fill="#ca3e72"/>
<rect x="598.20" y="184.15" width="5.79" height="5.66" fill="#641a80"/>
<rect x="603.49" y="184.15" width="5.79" height="5.66" fill="#251255"/>
<rect x="608.78" y="184.15" width="5.79" height="5.66" fill="#0e0b2b"/>
<rect x="614.06" y="184.15" width="5.79" height="5.66" fill="#06051a"/>
<rect x="619.35" y="184.15" width="5.79" height="5.66" fill="#02020b"/>
<rect x="624.64" y="184.15" width="16.36" height="5.66" fill="#000004"/>
<rect x="476.60" y="189.32" width="95.67" height="5.66" fill="#000004"/>
<rect x="571.77" y="189.32" width="5.79" height="5.66" fill="#0e0b2b"/>
<rect x="577.05" y="189.32" width="5.79" height="5.66" fill="#de4968"/>
<rect x="582.34" y="189.32" width="5.79" height="5.66" fill="#feb77e"/>
<rect x="587.63" y="189.32" width="5.79" height="5.66" fill="#fc8961"/>
<rect x="592.92" y="189.32" width="5.79" height="5.66" fill="#a1307e"/>
<rect x="598.20" y="189.32" width="5.79" height="5.66" fill="#440f76"/>
<rect x="603.49" y="189.32" width="5.79" height="5.66" fill="#140e36"/>
<rect x="608.78" y="189.32" width="5.79" height="5.66" fill="#06051a"/>
<rect x="614.06" y="189.32" width="5.79" height="5.66" fill="#03030f"/>
<rect x="619.35" y="189.32" width="21.65" height="5.66" fill="#000004"/>
<rect x="476.60" y="194.48" width="95.67" height="5.66" fill="#000004"/>
<rect x="571.77" y="194.48" width="5.79" height="5.66" fill="#06051a"/>
<rect x="577.05" y="194.48" width="5.79" height="5.66" fill="#f4675c"/>
<rect x="582.34" y="194.48" width="5.79" height="5.66" fill="#fe9f6d"/>
<rect x="587.63" y="194.48" width="5.79" height="5.66" fill="#f7705c"/>
<rect x="592.92" y="194.48" width="5.79" height="5.66" fill="#782281"/>
<rect x="598.20" y="194.48" width="5.79" height="5.66" fill="#251255"/>
<rect x="603.49" y="194.48" width="5.79" height="5.66" fill="#0b0924"/>
<rect x="608.78" y="194.48" width="5.79" height="5.66" fill="#03030f"/>
<rect x="614.06" y="194.48" width="26.94" height="5.66" fill="#000004"/>
<rect x="476.60" y="199.64" width="95.67" height="5.66" fill="#000004"/>
<rect x="571.77" y="199.64" width="5.79" height="5.66" fill="#140e36"/>
<rect x="577.05" y="199.64" width="5.79" height="5.66" fill="#feb77e"/>
<rect x="582.34" y="199.64" width="5.79" height="5.66" fill="#fe9f6d"/>
<rect x="587.63" y="199.64" width="5.79" height="5.66" fill="#de4968"/>
<rect x="592.92" y="199.64" width="5.79" height="5.66" fill="#641a80"/>
<rect x="598.20" y="199.64" width="5.79" height="5.66" fill="#1a1042"/>
<rect x="603.49" y="199.64" width="5.79" height="5.66" fill="#06051a"/>
<rect x="608.78" y="199.64" width="32.22" height="5.66" fill="#000004"/>
<rect x="476.60" y="204.81" width="95.67" height="5.66" fill="#000004"/>
<rect x="571.77" y="204.81" width="5.79" height="5.66" fill="#140e36"/>
<rect x="577.05" y="204.81" width="5.79" height="5.66" fill="#fc8961"/>
<rect x="582.34" y="204.81" width="5.79" height="5.66" fill="#fe9f6d"/>
<rect x="587.63" y="204.81" width="5.79" height="5.66" fill="#ca3e72"/>
<rect x="592.92" y="204.81" width="5.79" height="5.66" fill="#51127c"/>
<rect x="598.20" y="204.81" width="5.79" height="5.66" fill="#1a1042"/>
<rect x="603.49" y="204.81" width="5.79" height="5.66" fill="#03030f"/>
<rect x="608.78" y="204.81" width="32.22" height="5.66" fill="#000004"/>
<rect x="476.60" y="209.97" width="95.67" height="5.66" fill="#000004"/>
<rect x="571.77" y="209.97" width="5.79" height="5.66" fill="#251255"/>
<rect x="577.05" y="209.97" width="5.79" height="5.66" fill="#feb77e"/>
<rect x="582.34" y="209.97" width="5.79" height="5.66" fill="#fe9f6d"/>
<rect x="587.63" y="209.97" width="5.79" height="5.66" fill="#ca3e72"/>
<rect x="592.92" y="209.97" width="5.79" height="5.66" fill="#59157e"/>
<rect x="598.20" y="209.97" width="5.79" height="5.66" fill="#140e36"/>
<rect x="603.49" y="209.97" width="5.79" height="5.66" fill="#050416"/>
<rect x="608.78" y="209.97" width="32.22" height="5.66" fill="#000004"/>
<rect x="476.60" y="215.13" width="95.67" height="5.66" fill="#000004"/>
<rect x="571.77" y="215.13" width="5.79" height="5.66" fill="#3b0f70"/>
<rect x="577.05" y="215.13" width="5.79" height="5.66" fill="#fcf4b6"/>
<rect x="582.34" y="215.13" width="5.79" height="5.66" fill="#fe9f6d"/>
<rect x="587.63" y="215.13" width="5.79" height="5.66" fill="#ca3e72"/>
<rect x="592.92" y="215.13" width="5.79" height="5.66" fill="#51127c"/>
<rect x="598.20" y="215.13" width="5.79" height="5.66" fill="#140e36"/>
<rect x="603.49" y="215.13" width="5.79" height="5.66" fill="#050416"/>
<rect x="608.78" y="215.13" width="32.22" height="5.66" fill="#000004"/>
<rect x="476.60" y="220.29" width="95.67" height="5.66" fill="#000004"/>
<rect x="571.77" y="220.29" width="5.79" height="5.66" fill="#440f76"/>
<rect x="577.05" y="220.29" width="5.79" height="5.66" fill="#fec68a"/>
<rect x="582.34" y="220.29" width="5.79" height="5.66" fill="#fe9f6d"/>
<rect x="587.63" y="220.29" width="5.79" height="5.66" fill="#bf3a77"/>
<rect x="592.92" y="220.29" width="5.79" height="5.66" fill="#59157e"/>
<rect x="598.20" y="220.29" width="5.79" height="5.66" fill="#140e36"/>
<rect x="603.49" y="220.29" width="5.79" height="5.66" fill="#050416"/>
<rect x="608.78" y="220.29" width="32.22" height="5.66" fill="#000004"/>
<rect x="476.60" y="225.46" width="95.67" height="5.66" fill="#000004"/>
<rect x="571.77" y="225.46" width="5.79" height="5.66" fill="#59157e"/>
<rect x="577.05" y="225.46" width="5.79" height="5.66" fill="#fec68a"/>
<rect x="582.34" y="225.46" width="5.79" height="5.66" fill="#fe9f6d"/>
<rect x="587.63" y="225.46" width="5.79" height="5.66" fill="#b73779"/>
<rect x="592.92" y="225.46" width="5.79" height="5.66" fill="#51127c"/>
<rect x="598.20" y="225.46" width="5.79" height="5.66" fill="#140e36"/>
<rect x="603.49" y="225.46" width="5.79" height="5.66" fill="#050416"/>
<rect x="608.78" y="225.46" width="32.22" height="5.66" fill="#000004"/>
<rect x="476.60" y="230.62" width="95.67" height="5.66" fill="#000004"/>
<rect x="571.77" y="230.62" width="5.79" height="5.66" fill="#782281"/>
<rect x="577.05" y="230.62" width="5.79" height="5.66" fill="#feb77e"/>
<rect x="582.34" y="230.62" width="5.79" height="5.66" fill="#fc8c63"/>
<rect x="587.63" y="230.62" width="5.79" height="5.66" fill="#b73779"/>
<rect x="592.92" y="230.62" width="5.79" height="5.66" fill="#59157e"/>
<rect x="598.20" y="230.62" width="5.79" height="5.66" fill="#1a1042"/>
<rect x="603.49" y="230.62" width="5.79" height="5.66" fill="#06051a"/>
<rect x="608.78" y="230.62" width="32.22" height="5.66" fill="#000004"/>
<rect x="476.60" y="235.78" width="90.38" height="5.66" fill="#000004"/>
<rect x="566.48" y="235.78" width="5.79" height="5.66" fill="#0b0924"/>
<rect x="571.77" y="235.78" width="5.79" height="5.66" fill="#b73779"/>
<rect x="577.05" y="235.78" width="5.79" height="5.66" fill="#fcf9bb"/>
<rect x="582.34" y="235.78" width="5.79" height="5.66" fill="#fc8c63"/>
<rect x="587.63" y="235.78" width="5.79" height="5.66" fill="#b73779"/>
<rect x="592.92" y="235.78" width="5.79" height="5.66" fill="#641a80"/>
<rect x="598.20" y="235.78" width="5.79" height="5.66" fill="#1e1149"/>
<rect x="603.49" y="235.78" width="5.79" height="5.66" fill="#06051a"/>
<rect x="608.78" y="235.78" width="5.79" height="5.66" fill="#03030f"/>
<rect x="614.06" y="235.78" width="26.94" height="5.66" fill="#000004"/>
<rect x="476.60" y="240.95" width="90.38" height="5.66" fill="#000004"/>
<rect x="566.48" y="240.95" width="5.79" height="5.66" fill="#0b0924"/>
<rect x="571.77" y="240.95" width="5.79" height="5.66" fill="#b73779"/>
<rect x="577.05" y="240.95" width="5.79" height="5.66" fill="#fcf9bb"/>
<rect x="582.34" y="240.95" width="5.79" height="5.66" fill="#fc8c63"/>
<rect x="587.63" y="240.95" width="5.79" height="5.66" fill="#ca3e72"/>
<rect x="592.92" y="240.95" width="5.79" height="5.66" fill="#701f81"/>
<rect x="598.20" y="240.95" width="5.79" height="5.66" fill="#1e1149"/>
<rect x="603.49" y="240.95" width="5.79" height="5.66" fill="#090720"/>
<rect x="608.78" y="240.95" width="5.79" height="5.66" fill="#03030f"/>
<rect x="614.06" y="240.95" width="26.94" height="5.66" fill="#000004"/>
<rect x="476.60" y="246.11" width="90.38" height="15.99" fill="#000004"/>
<rect x="566.48" y="246.11" width="5.79" height="15.99" fill="#0b0924"/>
<rect x="571.77" y="246.11" width="5.79" height="15.99" fill="#b73779"/>
<rect x="577.05" y="246.11" width="5.79" height="15.99" fill="#fcf9bb"/>
<rect x="582.34" y="246.11" width="5.79" height="15.99" fill="#fe9f6d"/>
<rect x="587.63" y="246.11" width="5.79" height="15.99" fill="#de4968"/>
<rect x="592.92" y="246.11" width="5.79" height="15.99" fill="#802582"/>
<rect x="598.20" y="246.11" width="5.79" height="15.99" fill="#251255"/>
<rect x="603.49" y="246.11" width="5.79" height="15.99" fill="#0b0924"/>
<rect x="608.78" y="246.11" width="5.79" height="15.99" fill="#050416"/>
<rect x="614.06" y="246.11" width="5.79" height="15.99" fill="#02020b"/>
<rect x="619.35" y="246.11" width="21.65" height="15.99" fill="#000004"/>
</g>
<line x1="476.6" y1="179.29" x2="640.5" y2="179.29" stroke="#a4a4a4" stroke-width="1.05"/>
<line x1="476.6" y1="246.41" x2="640.5" y2="246.41" stroke="#a4a4a4" stroke-width="1.05"/>
<rect x="476.6" y="163.5" width="163.90" height="98.10" fill="none" stroke="#262626" stroke-width="1.25"/>
<line x1="479.24" y1="261.6" x2="479.24" y2="267.6" stroke="#262626" stroke-width="1.25"/>
<text x="483.04" y="278.9" font-size="10.2" text-anchor="middle" textLength="22.3" lengthAdjust="spacingAndGlyphs">0.01</text>
<line x1="532.11" y1="261.6" x2="532.11" y2="267.6" stroke="#262626" stroke-width="1.25"/>
<text x="532.11" y="278.9" font-size="10.2" text-anchor="middle" textLength="15.9" lengthAdjust="spacingAndGlyphs">0.1</text>
<line x1="584.99" y1="261.6" x2="584.99" y2="267.6" stroke="#262626" stroke-width="1.25"/>
<text x="584.99" y="278.9" font-size="10.2" text-anchor="middle" textLength="15.9" lengthAdjust="spacingAndGlyphs">1.0</text>
<line x1="637.86" y1="261.6" x2="637.86" y2="267.6" stroke="#262626" stroke-width="1.25"/>
<text x="637.86" y="278.9" font-size="10.2" text-anchor="middle" textLength="12.7" lengthAdjust="spacingAndGlyphs">10</text>
<text x="558.75" y="292.4" font-size="13" text-anchor="middle" font-style="italic">δ</text>
<line x1="640.5" y1="171.24" x2="646.5" y2="171.24" stroke="#262626" stroke-width="1.25"/>
<text x="649.5" y="175.09" font-size="10.7" textLength="12.6" lengthAdjust="spacingAndGlyphs">10</text>
<text x="662.4" y="171.24" font-size="7.8" textLength="5.0" lengthAdjust="spacingAndGlyphs">0</text>
<line x1="640.5" y1="181.57" x2="646.5" y2="181.57" stroke="#262626" stroke-width="1.25"/>
<text x="649.5" y="185.42" font-size="10.7" textLength="12.6" lengthAdjust="spacingAndGlyphs">10</text>
<text x="662.4" y="181.57" font-size="7.8" textLength="5.0" lengthAdjust="spacingAndGlyphs">1</text>
<line x1="640.5" y1="197.06" x2="646.5" y2="197.06" stroke="#262626" stroke-width="1.25"/>
<text x="649.5" y="200.91" font-size="10.7" textLength="12.6" lengthAdjust="spacingAndGlyphs">10</text>
<text x="662.4" y="197.06" font-size="7.8" textLength="5.0" lengthAdjust="spacingAndGlyphs">2</text>
<line x1="640.5" y1="212.55" x2="646.5" y2="212.55" stroke="#262626" stroke-width="1.25"/>
<text x="649.5" y="216.4" font-size="10.7" textLength="12.6" lengthAdjust="spacingAndGlyphs">10</text>
<text x="662.4" y="212.55" font-size="7.8" textLength="5.0" lengthAdjust="spacingAndGlyphs">3</text>
<line x1="640.5" y1="228.04" x2="646.5" y2="228.04" stroke="#262626" stroke-width="1.25"/>
<text x="649.5" y="231.89" font-size="10.7" textLength="12.6" lengthAdjust="spacingAndGlyphs">10</text>
<text x="662.4" y="228.04" font-size="7.8" textLength="5.0" lengthAdjust="spacingAndGlyphs">4</text>
<line x1="640.5" y1="243.53" x2="646.5" y2="243.53" stroke="#262626" stroke-width="1.25"/>
<text x="649.5" y="247.38" font-size="10.7" textLength="12.6" lengthAdjust="spacingAndGlyphs">10</text>
<text x="662.4" y="243.53" font-size="7.8" textLength="5.0" lengthAdjust="spacingAndGlyphs">5</text>
<line x1="640.5" y1="253.86" x2="646.5" y2="253.86" stroke="#262626" stroke-width="1.25"/>
<text x="649.7" y="257.66" font-size="10.4" textLength="17.5" lengthAdjust="spacingAndGlyphs">F.T.</text>
<text x="558.55" y="159.6" font-size="12.2" text-anchor="middle" textLength="35" lengthAdjust="spacingAndGlyphs">Polish</text>
<text x="639.2" y="162.2" font-size="16.4" text-anchor="end" fill="#000">f</text>
<text x="681.9" y="58.8" font-size="12.6" text-anchor="middle" textLength="112.5" lengthAdjust="spacingAndGlyphs" transform="rotate(-90 681.9 58.8)">Fragments' length</text>
<text x="681.9" y="212.3" font-size="11.8" text-anchor="middle" textLength="106" lengthAdjust="spacingAndGlyphs" transform="rotate(-90 681.9 212.3)">Fragments' length</text>
<defs><linearGradient id="mg" x1="0" y1="0" x2="0" y2="1">
<stop offset="0.000" stop-color="#fcfdbf"/>
<stop offset="0.025" stop-color="#fcf2b4"/>
<stop offset="0.050" stop-color="#fde7a9"/>
<stop offset="0.075" stop-color="#fdda9c"/>
<stop offset="0.100" stop-color="#fecf92"/>
<stop offset="0.125" stop-color="#fec488"/>
<stop offset="0.150" stop-color="#feb77e"/>
<stop offset="0.175" stop-color="#feac76"/>
<stop offset="0.200" stop-color="#fe9f6d"/>
<stop offset="0.225" stop-color="#fd9467"/>
<stop offset="0.250" stop-color="#fc8961"/>
<stop offset="0.275" stop-color="#f97b5d"/>
<stop offset="0.300" stop-color="#f7705c"/>
<stop offset="0.325" stop-color="#f2645c"/>
<stop offset="0.350" stop-color="#ed5a5f"/>
<stop offset="0.375" stop-color="#e75263"/>
<stop offset="0.400" stop-color="#de4968"/>
<stop offset="0.425" stop-color="#d5446d"/>
<stop offset="0.450" stop-color="#ca3e72"/>
<stop offset="0.475" stop-color="#c03a76"/>
<stop offset="0.500" stop-color="#b73779"/>
<stop offset="0.525" stop-color="#ab337c"/>
<stop offset="0.550" stop-color="#a1307e"/>
<stop offset="0.575" stop-color="#962c80"/>
<stop offset="0.600" stop-color="#8c2981"/>
<stop offset="0.625" stop-color="#832681"/>
<stop offset="0.650" stop-color="#782281"/>
<stop offset="0.675" stop-color="#6e1e81"/>
<stop offset="0.700" stop-color="#641a80"/>
<stop offset="0.725" stop-color="#5a167e"/>
<stop offset="0.750" stop-color="#51127c"/>
<stop offset="0.775" stop-color="#451077"/>
<stop offset="0.800" stop-color="#3b0f70"/>
<stop offset="0.825" stop-color="#2f1163"/>
<stop offset="0.850" stop-color="#251255"/>
<stop offset="0.875" stop-color="#1d1147"/>
<stop offset="0.900" stop-color="#140e36"/>
<stop offset="0.925" stop-color="#0d0a29"/>
<stop offset="0.950" stop-color="#06051a"/>
<stop offset="0.975" stop-color="#02020d"/>
<stop offset="1.000" stop-color="#000004"/>
</linearGradient></defs>
<rect x="24.2" y="161.6" width="8.60" height="97.60" fill="url(#mg)"/>
<path d="M24.2 259.2L28.5 264.8L32.8 259.2Z" fill="#000004"/>
<path d="M24.2 161.6H32.8V259.2L28.5 264.8L24.2 259.2Z" fill="none" stroke="#262626" stroke-width="1"/>
<line x1="32.8" y1="161.60" x2="38.699999999999996" y2="161.60" stroke="#262626" stroke-width="1.2"/>
<text x="41.0" y="165.9" font-size="10.9" textLength="17.9" lengthAdjust="spacingAndGlyphs">0.0</text>
<line x1="32.8" y1="205.25" x2="38.699999999999996" y2="205.25" stroke="#262626" stroke-width="1.2"/>
<text x="41.8" y="209.55" font-size="10.4" textLength="25.6" lengthAdjust="spacingAndGlyphs">−0.1</text>
<line x1="32.8" y1="223.33" x2="38.699999999999996" y2="223.33" stroke="#262626" stroke-width="1.2"/>
<text x="41.8" y="227.63" font-size="10.4" textLength="25.6" lengthAdjust="spacingAndGlyphs">−0.2</text>
<line x1="32.8" y1="237.20" x2="38.699999999999996" y2="237.20" stroke="#262626" stroke-width="1.2"/>
<text x="41.8" y="241.5" font-size="10.4" textLength="25.6" lengthAdjust="spacingAndGlyphs">−0.3</text>
<line x1="32.8" y1="248.90" x2="38.699999999999996" y2="248.90" stroke="#262626" stroke-width="1.2"/>
<text x="41.8" y="253.2" font-size="10.4" textLength="25.6" lengthAdjust="spacingAndGlyphs">−0.4</text>
<line x1="32.8" y1="259.20" x2="38.699999999999996" y2="259.20" stroke="#262626" stroke-width="1.2"/>
<text x="41.8" y="263.5" font-size="10.4" textLength="25.6" lengthAdjust="spacingAndGlyphs">−0.5</text>
<text x="14.8" y="210.5" font-size="12.2" text-anchor="middle" textLength="106" lengthAdjust="spacingAndGlyphs" transform="rotate(-90 14.8 210.5)">relative accuracy</text>
</svg>
</body></html>
